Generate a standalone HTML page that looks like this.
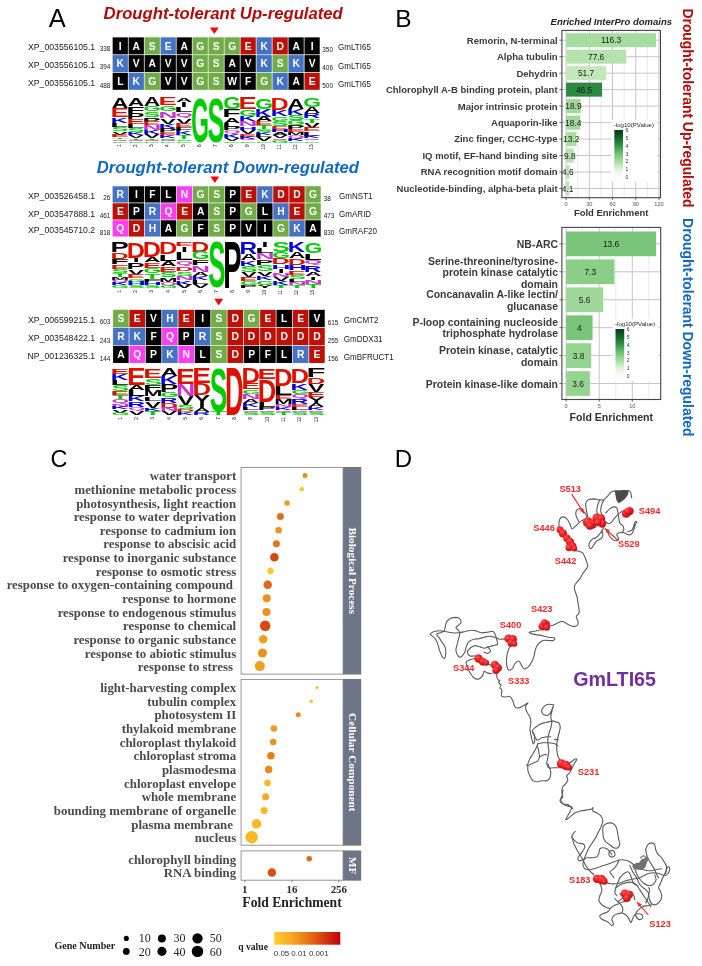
<!DOCTYPE html>
<html lang="en"><head><meta charset="utf-8"><title>Figure</title>
<style>
html,body{margin:0;padding:0;background:#fff;}
body{width:702px;height:966px;overflow:hidden;font-family:'Liberation Sans', Arial, sans-serif;}
svg{display:block;}
text{white-space:pre;}
</style></head><body>
<svg width="702" height="966" viewBox="0 0 702 966">
<rect width="702" height="966" fill="#ffffff"/>
<g id="panelA">
<text x="48.80" y="27.20" font-family="'Liberation Sans', Arial, sans-serif" font-size="25.5" font-weight="normal" font-style="normal" fill="#000" text-anchor="start" >A</text>
<text x="103.60" y="19.00" font-family="'Liberation Sans', Arial, sans-serif" font-size="16.7" font-weight="bold" font-style="italic" fill="#b40a0a" text-anchor="start" >Drought-tolerant Up-regulated</text>
<path d="M209.90 27.50 L218.70 27.50 L214.30 34.10 Z" fill="#ff0000"/>
<rect x="112.00" y="36.70" width="208.11" height="53.39" fill="#ececec"/>
<rect x="112.70" y="37.40" width="15.18" height="16.93" fill="#000000"/>
<text x="120.29" y="49.57" font-family="'Liberation Sans', Arial, sans-serif" font-size="10.3" font-weight="bold" font-style="normal" fill="#fff" text-anchor="middle" >I</text>
<rect x="128.69" y="37.40" width="15.18" height="16.93" fill="#000000"/>
<text x="136.28" y="49.57" font-family="'Liberation Sans', Arial, sans-serif" font-size="10.3" font-weight="bold" font-style="normal" fill="#fff" text-anchor="middle" >A</text>
<rect x="144.67" y="37.40" width="15.18" height="16.93" fill="#70ad47"/>
<text x="152.26" y="49.57" font-family="'Liberation Sans', Arial, sans-serif" font-size="10.3" font-weight="bold" font-style="normal" fill="#fff" text-anchor="middle" >S</text>
<rect x="160.66" y="37.40" width="15.18" height="16.93" fill="#4472c4"/>
<text x="168.25" y="49.57" font-family="'Liberation Sans', Arial, sans-serif" font-size="10.3" font-weight="bold" font-style="normal" fill="#fff" text-anchor="middle" >E</text>
<rect x="176.64" y="37.40" width="15.18" height="16.93" fill="#000000"/>
<text x="184.23" y="49.57" font-family="'Liberation Sans', Arial, sans-serif" font-size="10.3" font-weight="bold" font-style="normal" fill="#fff" text-anchor="middle" >A</text>
<rect x="192.62" y="37.40" width="15.18" height="16.93" fill="#70ad47"/>
<text x="200.22" y="49.57" font-family="'Liberation Sans', Arial, sans-serif" font-size="10.3" font-weight="bold" font-style="normal" fill="#fff" text-anchor="middle" >G</text>
<rect x="208.61" y="37.40" width="15.18" height="16.93" fill="#70ad47"/>
<text x="216.20" y="49.57" font-family="'Liberation Sans', Arial, sans-serif" font-size="10.3" font-weight="bold" font-style="normal" fill="#fff" text-anchor="middle" >S</text>
<rect x="224.59" y="37.40" width="15.18" height="16.93" fill="#70ad47"/>
<text x="232.19" y="49.57" font-family="'Liberation Sans', Arial, sans-serif" font-size="10.3" font-weight="bold" font-style="normal" fill="#fff" text-anchor="middle" >G</text>
<rect x="240.58" y="37.40" width="15.18" height="16.93" fill="#be1006"/>
<text x="248.17" y="49.57" font-family="'Liberation Sans', Arial, sans-serif" font-size="10.3" font-weight="bold" font-style="normal" fill="#fff" text-anchor="middle" >E</text>
<rect x="256.56" y="37.40" width="15.18" height="16.93" fill="#4472c4"/>
<text x="264.16" y="49.57" font-family="'Liberation Sans', Arial, sans-serif" font-size="10.3" font-weight="bold" font-style="normal" fill="#fff" text-anchor="middle" >K</text>
<rect x="272.55" y="37.40" width="15.18" height="16.93" fill="#be1006"/>
<text x="280.14" y="49.57" font-family="'Liberation Sans', Arial, sans-serif" font-size="10.3" font-weight="bold" font-style="normal" fill="#fff" text-anchor="middle" >D</text>
<rect x="288.53" y="37.40" width="15.18" height="16.93" fill="#000000"/>
<text x="296.13" y="49.57" font-family="'Liberation Sans', Arial, sans-serif" font-size="10.3" font-weight="bold" font-style="normal" fill="#fff" text-anchor="middle" >A</text>
<rect x="304.52" y="37.40" width="15.18" height="16.93" fill="#000000"/>
<text x="312.11" y="49.57" font-family="'Liberation Sans', Arial, sans-serif" font-size="10.3" font-weight="bold" font-style="normal" fill="#fff" text-anchor="middle" >I</text>
<text x="95.20" y="49.90" font-family="'Liberation Sans', Arial, sans-serif" font-size="8.7" font-weight="normal" font-style="normal" fill="#1a1a1a" text-anchor="end" >XP_003556105.1</text>
<text x="110.30" y="51.20" font-family="'Liberation Sans', Arial, sans-serif" font-size="6.4" font-weight="normal" font-style="normal" fill="#1a1a1a" text-anchor="end" >338</text>
<text x="322.30" y="51.50" font-family="'Liberation Sans', Arial, sans-serif" font-size="6.4" font-weight="normal" font-style="normal" fill="#1a1a1a" text-anchor="start" >350</text>
<text transform="translate(338.00 50.40) scale(0.925 1)" font-family="'Liberation Sans', Arial, sans-serif" font-size="8.7" fill="#1a1a1a">GmLTI65</text>
<rect x="112.70" y="55.13" width="15.18" height="16.93" fill="#4472c4"/>
<text x="120.29" y="67.30" font-family="'Liberation Sans', Arial, sans-serif" font-size="10.3" font-weight="bold" font-style="normal" fill="#fff" text-anchor="middle" >K</text>
<rect x="128.69" y="55.13" width="15.18" height="16.93" fill="#000000"/>
<text x="136.28" y="67.30" font-family="'Liberation Sans', Arial, sans-serif" font-size="10.3" font-weight="bold" font-style="normal" fill="#fff" text-anchor="middle" >V</text>
<rect x="144.67" y="55.13" width="15.18" height="16.93" fill="#000000"/>
<text x="152.26" y="67.30" font-family="'Liberation Sans', Arial, sans-serif" font-size="10.3" font-weight="bold" font-style="normal" fill="#fff" text-anchor="middle" >A</text>
<rect x="160.66" y="55.13" width="15.18" height="16.93" fill="#000000"/>
<text x="168.25" y="67.30" font-family="'Liberation Sans', Arial, sans-serif" font-size="10.3" font-weight="bold" font-style="normal" fill="#fff" text-anchor="middle" >V</text>
<rect x="176.64" y="55.13" width="15.18" height="16.93" fill="#000000"/>
<text x="184.23" y="67.30" font-family="'Liberation Sans', Arial, sans-serif" font-size="10.3" font-weight="bold" font-style="normal" fill="#fff" text-anchor="middle" >V</text>
<rect x="192.62" y="55.13" width="15.18" height="16.93" fill="#70ad47"/>
<text x="200.22" y="67.30" font-family="'Liberation Sans', Arial, sans-serif" font-size="10.3" font-weight="bold" font-style="normal" fill="#fff" text-anchor="middle" >G</text>
<rect x="208.61" y="55.13" width="15.18" height="16.93" fill="#70ad47"/>
<text x="216.20" y="67.30" font-family="'Liberation Sans', Arial, sans-serif" font-size="10.3" font-weight="bold" font-style="normal" fill="#fff" text-anchor="middle" >S</text>
<rect x="224.59" y="55.13" width="15.18" height="16.93" fill="#000000"/>
<text x="232.19" y="67.30" font-family="'Liberation Sans', Arial, sans-serif" font-size="10.3" font-weight="bold" font-style="normal" fill="#fff" text-anchor="middle" >A</text>
<rect x="240.58" y="55.13" width="15.18" height="16.93" fill="#000000"/>
<text x="248.17" y="67.30" font-family="'Liberation Sans', Arial, sans-serif" font-size="10.3" font-weight="bold" font-style="normal" fill="#fff" text-anchor="middle" >V</text>
<rect x="256.56" y="55.13" width="15.18" height="16.93" fill="#4472c4"/>
<text x="264.16" y="67.30" font-family="'Liberation Sans', Arial, sans-serif" font-size="10.3" font-weight="bold" font-style="normal" fill="#fff" text-anchor="middle" >K</text>
<rect x="272.55" y="55.13" width="15.18" height="16.93" fill="#70ad47"/>
<text x="280.14" y="67.30" font-family="'Liberation Sans', Arial, sans-serif" font-size="10.3" font-weight="bold" font-style="normal" fill="#fff" text-anchor="middle" >S</text>
<rect x="288.53" y="55.13" width="15.18" height="16.93" fill="#4472c4"/>
<text x="296.13" y="67.30" font-family="'Liberation Sans', Arial, sans-serif" font-size="10.3" font-weight="bold" font-style="normal" fill="#fff" text-anchor="middle" >K</text>
<rect x="304.52" y="55.13" width="15.18" height="16.93" fill="#000000"/>
<text x="312.11" y="67.30" font-family="'Liberation Sans', Arial, sans-serif" font-size="10.3" font-weight="bold" font-style="normal" fill="#fff" text-anchor="middle" >V</text>
<text x="95.20" y="68.00" font-family="'Liberation Sans', Arial, sans-serif" font-size="8.7" font-weight="normal" font-style="normal" fill="#1a1a1a" text-anchor="end" >XP_003556105.1</text>
<text x="110.30" y="69.30" font-family="'Liberation Sans', Arial, sans-serif" font-size="6.4" font-weight="normal" font-style="normal" fill="#1a1a1a" text-anchor="end" >394</text>
<text x="322.30" y="69.60" font-family="'Liberation Sans', Arial, sans-serif" font-size="6.4" font-weight="normal" font-style="normal" fill="#1a1a1a" text-anchor="start" >406</text>
<text transform="translate(338.00 68.50) scale(0.925 1)" font-family="'Liberation Sans', Arial, sans-serif" font-size="8.7" fill="#1a1a1a">GmLTI65</text>
<rect x="112.70" y="72.86" width="15.18" height="16.93" fill="#000000"/>
<text x="120.29" y="85.03" font-family="'Liberation Sans', Arial, sans-serif" font-size="10.3" font-weight="bold" font-style="normal" fill="#fff" text-anchor="middle" >L</text>
<rect x="128.69" y="72.86" width="15.18" height="16.93" fill="#4472c4"/>
<text x="136.28" y="85.03" font-family="'Liberation Sans', Arial, sans-serif" font-size="10.3" font-weight="bold" font-style="normal" fill="#fff" text-anchor="middle" >K</text>
<rect x="144.67" y="72.86" width="15.18" height="16.93" fill="#70ad47"/>
<text x="152.26" y="85.03" font-family="'Liberation Sans', Arial, sans-serif" font-size="10.3" font-weight="bold" font-style="normal" fill="#fff" text-anchor="middle" >G</text>
<rect x="160.66" y="72.86" width="15.18" height="16.93" fill="#000000"/>
<text x="168.25" y="85.03" font-family="'Liberation Sans', Arial, sans-serif" font-size="10.3" font-weight="bold" font-style="normal" fill="#fff" text-anchor="middle" >V</text>
<rect x="176.64" y="72.86" width="15.18" height="16.93" fill="#000000"/>
<text x="184.23" y="85.03" font-family="'Liberation Sans', Arial, sans-serif" font-size="10.3" font-weight="bold" font-style="normal" fill="#fff" text-anchor="middle" >V</text>
<rect x="192.62" y="72.86" width="15.18" height="16.93" fill="#70ad47"/>
<text x="200.22" y="85.03" font-family="'Liberation Sans', Arial, sans-serif" font-size="10.3" font-weight="bold" font-style="normal" fill="#fff" text-anchor="middle" >G</text>
<rect x="208.61" y="72.86" width="15.18" height="16.93" fill="#70ad47"/>
<text x="216.20" y="85.03" font-family="'Liberation Sans', Arial, sans-serif" font-size="10.3" font-weight="bold" font-style="normal" fill="#fff" text-anchor="middle" >S</text>
<rect x="224.59" y="72.86" width="15.18" height="16.93" fill="#000000"/>
<text x="232.19" y="85.03" font-family="'Liberation Sans', Arial, sans-serif" font-size="10.3" font-weight="bold" font-style="normal" fill="#fff" text-anchor="middle" >W</text>
<rect x="240.58" y="72.86" width="15.18" height="16.93" fill="#000000"/>
<text x="248.17" y="85.03" font-family="'Liberation Sans', Arial, sans-serif" font-size="10.3" font-weight="bold" font-style="normal" fill="#fff" text-anchor="middle" >F</text>
<rect x="256.56" y="72.86" width="15.18" height="16.93" fill="#70ad47"/>
<text x="264.16" y="85.03" font-family="'Liberation Sans', Arial, sans-serif" font-size="10.3" font-weight="bold" font-style="normal" fill="#fff" text-anchor="middle" >G</text>
<rect x="272.55" y="72.86" width="15.18" height="16.93" fill="#4472c4"/>
<text x="280.14" y="85.03" font-family="'Liberation Sans', Arial, sans-serif" font-size="10.3" font-weight="bold" font-style="normal" fill="#fff" text-anchor="middle" >K</text>
<rect x="288.53" y="72.86" width="15.18" height="16.93" fill="#000000"/>
<text x="296.13" y="85.03" font-family="'Liberation Sans', Arial, sans-serif" font-size="10.3" font-weight="bold" font-style="normal" fill="#fff" text-anchor="middle" >A</text>
<rect x="304.52" y="72.86" width="15.18" height="16.93" fill="#be1006"/>
<text x="312.11" y="85.03" font-family="'Liberation Sans', Arial, sans-serif" font-size="10.3" font-weight="bold" font-style="normal" fill="#fff" text-anchor="middle" >E</text>
<text x="95.20" y="86.30" font-family="'Liberation Sans', Arial, sans-serif" font-size="8.7" font-weight="normal" font-style="normal" fill="#1a1a1a" text-anchor="end" >XP_003556105.1</text>
<text x="110.30" y="87.60" font-family="'Liberation Sans', Arial, sans-serif" font-size="6.4" font-weight="normal" font-style="normal" fill="#1a1a1a" text-anchor="end" >488</text>
<text x="322.30" y="87.90" font-family="'Liberation Sans', Arial, sans-serif" font-size="6.4" font-weight="normal" font-style="normal" fill="#1a1a1a" text-anchor="start" >500</text>
<text transform="translate(338.00 86.80) scale(0.925 1)" font-family="'Liberation Sans', Arial, sans-serif" font-size="8.7" fill="#1a1a1a">GmLTI65</text>
<text transform="matrix(2.295 0 0 1.434 111.73 108.17)" font-family="'Liberation Sans', Arial, sans-serif" font-size="10" font-weight="bold" fill="#000000">A</text>
<text transform="matrix(2.745 0 0 1.231 110.46 117.03)" font-family="'Liberation Sans', Arial, sans-serif" font-size="10" font-weight="bold" fill="#dd1100">E</text>
<text transform="matrix(2.388 0 0 0.756 110.70 122.63)" font-family="'Liberation Sans', Arial, sans-serif" font-size="10" font-weight="bold" fill="#0000dd">K</text>
<text transform="matrix(3.002 0 0 0.620 110.29 127.30)" font-family="'Liberation Sans', Arial, sans-serif" font-size="10" font-weight="bold" fill="#000000">L</text>
<text transform="matrix(2.571 0 0 0.537 111.55 131.45)" font-family="'Liberation Sans', Arial, sans-serif" font-size="10" font-weight="bold" fill="#00cc00">S</text>
<text transform="matrix(2.358 0 0 0.417 112.13 134.77)" font-family="'Liberation Sans', Arial, sans-serif" font-size="10" font-weight="bold" fill="#000000">V</text>
<text transform="matrix(2.745 0 0 0.281 110.46 137.10)" font-family="'Liberation Sans', Arial, sans-serif" font-size="10" font-weight="bold" fill="#dd1100">E</text>
<text transform="matrix(2.615 0 0 0.213 112.01 138.97)" font-family="'Liberation Sans', Arial, sans-serif" font-size="10" font-weight="bold" fill="#00cc00">T</text>
<text transform="matrix(2.216 0 0 0.164 111.39 140.51)" font-family="'Liberation Sans', Arial, sans-serif" font-size="10" font-weight="bold" fill="#cc33cc">Q</text>
<text transform="matrix(2.281 0 0 0.207 111.36 142.68)" font-family="'Liberation Sans', Arial, sans-serif" font-size="10" font-weight="bold" fill="#00cc00">G</text>
<text transform="translate(121.20 144.40) rotate(-90)" font-family="'Liberation Sans', Arial, sans-serif" font-size="4.8" fill="#111" text-anchor="end">1</text>
<text transform="matrix(2.295 0 0 1.074 127.73 105.69)" font-family="'Liberation Sans', Arial, sans-serif" font-size="10" font-weight="bold" fill="#000000">A</text>
<text transform="matrix(3.037 0 0 0.933 126.26 112.51)" font-family="'Liberation Sans', Arial, sans-serif" font-size="10" font-weight="bold" fill="#000000">F</text>
<text transform="matrix(2.721 0 0 0.933 126.48 119.33)" font-family="'Liberation Sans', Arial, sans-serif" font-size="10" font-weight="bold" fill="#000000">P</text>
<text transform="matrix(2.745 0 0 0.650 126.46 124.20)" font-family="'Liberation Sans', Arial, sans-serif" font-size="10" font-weight="bold" fill="#dd1100">E</text>
<text transform="matrix(3.002 0 0 0.508 126.29 128.09)" font-family="'Liberation Sans', Arial, sans-serif" font-size="10" font-weight="bold" fill="#000000">L</text>
<text transform="matrix(2.571 0 0 0.494 127.55 131.94)" font-family="'Liberation Sans', Arial, sans-serif" font-size="10" font-weight="bold" fill="#00cc00">S</text>
<text transform="matrix(2.388 0 0 0.367 126.70 134.91)" font-family="'Liberation Sans', Arial, sans-serif" font-size="10" font-weight="bold" fill="#0000dd">K</text>
<text transform="matrix(2.358 0 0 0.367 128.13 137.83)" font-family="'Liberation Sans', Arial, sans-serif" font-size="10" font-weight="bold" fill="#000000">V</text>
<text transform="matrix(2.615 0 0 0.225 128.01 139.78)" font-family="'Liberation Sans', Arial, sans-serif" font-size="10" font-weight="bold" fill="#00cc00">T</text>
<text transform="matrix(2.216 0 0 0.119 127.39 141.01)" font-family="'Liberation Sans', Arial, sans-serif" font-size="10" font-weight="bold" fill="#cc33cc">Q</text>
<text transform="matrix(2.281 0 0 0.150 127.36 142.69)" font-family="'Liberation Sans', Arial, sans-serif" font-size="10" font-weight="bold" fill="#00cc00">G</text>
<text transform="translate(137.20 144.40) rotate(-90)" font-family="'Liberation Sans', Arial, sans-serif" font-size="4.8" fill="#111" text-anchor="end">2</text>
<text transform="matrix(2.295 0 0 1.186 143.73 106.46)" font-family="'Liberation Sans', Arial, sans-serif" font-size="10" font-weight="bold" fill="#000000">A</text>
<text transform="matrix(2.281 0 0 0.654 143.36 111.43)" font-family="'Liberation Sans', Arial, sans-serif" font-size="10" font-weight="bold" fill="#00cc00">G</text>
<text transform="matrix(2.571 0 0 0.797 143.55 117.45)" font-family="'Liberation Sans', Arial, sans-serif" font-size="10" font-weight="bold" fill="#00cc00">S</text>
<text transform="matrix(2.721 0 0 0.527 142.48 121.56)" font-family="'Liberation Sans', Arial, sans-serif" font-size="10" font-weight="bold" fill="#000000">P</text>
<text transform="matrix(2.745 0 0 0.454 142.46 125.08)" font-family="'Liberation Sans', Arial, sans-serif" font-size="10" font-weight="bold" fill="#dd1100">E</text>
<text transform="matrix(2.619 0 0 0.674 142.55 130.12)" font-family="'Liberation Sans', Arial, sans-serif" font-size="10" font-weight="bold" fill="#cc33cc">N</text>
<text transform="matrix(2.388 0 0 0.527 142.70 134.14)" font-family="'Liberation Sans', Arial, sans-serif" font-size="10" font-weight="bold" fill="#0000dd">K</text>
<text transform="matrix(2.358 0 0 0.454 144.13 137.67)" font-family="'Liberation Sans', Arial, sans-serif" font-size="10" font-weight="bold" fill="#000000">V</text>
<text transform="matrix(2.615 0 0 0.235 144.01 139.68)" font-family="'Liberation Sans', Arial, sans-serif" font-size="10" font-weight="bold" fill="#00cc00">T</text>
<text transform="matrix(2.216 0 0 0.124 143.39 140.95)" font-family="'Liberation Sans', Arial, sans-serif" font-size="10" font-weight="bold" fill="#cc33cc">Q</text>
<text transform="matrix(2.281 0 0 0.157 143.36 142.68)" font-family="'Liberation Sans', Arial, sans-serif" font-size="10" font-weight="bold" fill="#00cc00">G</text>
<text transform="translate(153.20 144.40) rotate(-90)" font-family="'Liberation Sans', Arial, sans-serif" font-size="4.8" fill="#111" text-anchor="end">3</text>
<text transform="matrix(2.745 0 0 1.039 158.46 105.45)" font-family="'Liberation Sans', Arial, sans-serif" font-size="10" font-weight="bold" fill="#dd1100">E</text>
<text transform="matrix(2.281 0 0 0.743 159.36 111.03)" font-family="'Liberation Sans', Arial, sans-serif" font-size="10" font-weight="bold" fill="#00cc00">G</text>
<text transform="matrix(2.619 0 0 0.970 158.55 118.18)" font-family="'Liberation Sans', Arial, sans-serif" font-size="10" font-weight="bold" fill="#cc33cc">N</text>
<text transform="matrix(2.358 0 0 0.764 160.13 123.84)" font-family="'Liberation Sans', Arial, sans-serif" font-size="10" font-weight="bold" fill="#000000">V</text>
<text transform="matrix(2.388 0 0 0.559 158.70 128.08)" font-family="'Liberation Sans', Arial, sans-serif" font-size="10" font-weight="bold" fill="#0000dd">K</text>
<text transform="matrix(2.721 0 0 0.559 158.48 132.33)" font-family="'Liberation Sans', Arial, sans-serif" font-size="10" font-weight="bold" fill="#000000">P</text>
<text transform="matrix(2.745 0 0 0.353 158.46 135.15)" font-family="'Liberation Sans', Arial, sans-serif" font-size="10" font-weight="bold" fill="#dd1100">E</text>
<text transform="matrix(2.388 0 0 0.353 158.70 137.98)" font-family="'Liberation Sans', Arial, sans-serif" font-size="10" font-weight="bold" fill="#0000dd">K</text>
<text transform="matrix(2.571 0 0 0.210 159.55 139.85)" font-family="'Liberation Sans', Arial, sans-serif" font-size="10" font-weight="bold" fill="#00cc00">S</text>
<text transform="matrix(2.216 0 0 0.113 159.39 141.06)" font-family="'Liberation Sans', Arial, sans-serif" font-size="10" font-weight="bold" fill="#cc33cc">Q</text>
<text transform="matrix(2.281 0 0 0.143 159.36 142.69)" font-family="'Liberation Sans', Arial, sans-serif" font-size="10" font-weight="bold" fill="#00cc00">G</text>
<text transform="translate(169.20 144.40) rotate(-90)" font-family="'Liberation Sans', Arial, sans-serif" font-size="4.8" fill="#111" text-anchor="end">4</text>
<text transform="matrix(2.295 0 0 0.593 175.73 102.38)" font-family="'Liberation Sans', Arial, sans-serif" font-size="10" font-weight="bold" fill="#000000">A</text>
<text transform="matrix(2.444 0 0 0.665 180.60 107.36)" font-family="'Liberation Sans', Arial, sans-serif" font-size="10" font-weight="bold" fill="#000000">I</text>
<text transform="matrix(3.002 0 0 0.665 174.29 112.34)" font-family="'Liberation Sans', Arial, sans-serif" font-size="10" font-weight="bold" fill="#000000">L</text>
<text transform="matrix(2.216 0 0 0.567 175.39 116.69)" font-family="'Liberation Sans', Arial, sans-serif" font-size="10" font-weight="bold" fill="#cc33cc">Q</text>
<text transform="matrix(2.358 0 0 0.810 176.13 123.78)" font-family="'Liberation Sans', Arial, sans-serif" font-size="10" font-weight="bold" fill="#000000">V</text>
<text transform="matrix(2.745 0 0 0.448 174.46 127.27)" font-family="'Liberation Sans', Arial, sans-serif" font-size="10" font-weight="bold" fill="#dd1100">E</text>
<text transform="matrix(3.037 0 0 0.448 174.26 130.75)" font-family="'Liberation Sans', Arial, sans-serif" font-size="10" font-weight="bold" fill="#000000">F</text>
<text transform="matrix(2.388 0 0 0.521 174.70 134.74)" font-family="'Liberation Sans', Arial, sans-serif" font-size="10" font-weight="bold" fill="#0000dd">K</text>
<text transform="matrix(2.615 0 0 0.593 176.01 139.22)" font-family="'Liberation Sans', Arial, sans-serif" font-size="10" font-weight="bold" fill="#00cc00">T</text>
<text transform="matrix(2.571 0 0 0.225 175.55 141.18)" font-family="'Liberation Sans', Arial, sans-serif" font-size="10" font-weight="bold" fill="#00cc00">S</text>
<text transform="matrix(2.281 0 0 0.154 175.36 142.68)" font-family="'Liberation Sans', Arial, sans-serif" font-size="10" font-weight="bold" fill="#00cc00">G</text>
<text transform="translate(185.20 144.40) rotate(-90)" font-family="'Liberation Sans', Arial, sans-serif" font-size="4.8" fill="#111" text-anchor="end">5</text>
<text transform="matrix(2.281 0 0 6.271 191.36 142.07)" font-family="'Liberation Sans', Arial, sans-serif" font-size="10" font-weight="bold" fill="#00cc00">G</text>
<text transform="translate(201.20 144.40) rotate(-90)" font-family="'Liberation Sans', Arial, sans-serif" font-size="4.8" fill="#111" text-anchor="end">6</text>
<text transform="matrix(2.571 0 0 6.271 207.55 142.07)" font-family="'Liberation Sans', Arial, sans-serif" font-size="10" font-weight="bold" fill="#00cc00">S</text>
<text transform="translate(217.20 144.40) rotate(-90)" font-family="'Liberation Sans', Arial, sans-serif" font-size="4.8" fill="#111" text-anchor="end">7</text>
<text transform="matrix(2.281 0 0 1.558 223.36 109.17)" font-family="'Liberation Sans', Arial, sans-serif" font-size="10" font-weight="bold" fill="#00cc00">G</text>
<text transform="matrix(3.037 0 0 1.071 222.26 117.10)" font-family="'Liberation Sans', Arial, sans-serif" font-size="10" font-weight="bold" fill="#000000">F</text>
<text transform="matrix(2.295 0 0 0.806 223.73 123.04)" font-family="'Liberation Sans', Arial, sans-serif" font-size="10" font-weight="bold" fill="#000000">A</text>
<text transform="matrix(3.002 0 0 0.473 222.29 126.70)" font-family="'Liberation Sans', Arial, sans-serif" font-size="10" font-weight="bold" fill="#000000">L</text>
<text transform="matrix(2.721 0 0 0.473 222.48 130.36)" font-family="'Liberation Sans', Arial, sans-serif" font-size="10" font-weight="bold" fill="#000000">P</text>
<text transform="matrix(2.216 0 0 0.364 223.39 133.30)" font-family="'Liberation Sans', Arial, sans-serif" font-size="10" font-weight="bold" fill="#cc33cc">Q</text>
<text transform="matrix(2.388 0 0 0.473 222.70 137.67)" font-family="'Liberation Sans', Arial, sans-serif" font-size="10" font-weight="bold" fill="#0000dd">K</text>
<text transform="matrix(2.358 0 0 0.407 224.13 140.87)" font-family="'Liberation Sans', Arial, sans-serif" font-size="10" font-weight="bold" fill="#000000">V</text>
<text transform="matrix(2.281 0 0 0.202 223.36 142.68)" font-family="'Liberation Sans', Arial, sans-serif" font-size="10" font-weight="bold" fill="#00cc00">G</text>
<text transform="translate(233.20 144.40) rotate(-90)" font-family="'Liberation Sans', Arial, sans-serif" font-size="4.8" fill="#111" text-anchor="end">8</text>
<text transform="matrix(2.745 0 0 1.587 238.46 109.22)" font-family="'Liberation Sans', Arial, sans-serif" font-size="10" font-weight="bold" fill="#dd1100">E</text>
<text transform="matrix(2.281 0 0 0.876 239.36 115.73)" font-family="'Liberation Sans', Arial, sans-serif" font-size="10" font-weight="bold" fill="#00cc00">G</text>
<text transform="matrix(2.388 0 0 0.764 238.70 121.48)" font-family="'Liberation Sans', Arial, sans-serif" font-size="10" font-weight="bold" fill="#0000dd">K</text>
<text transform="matrix(2.619 0 0 0.627 238.55 126.19)" font-family="'Liberation Sans', Arial, sans-serif" font-size="10" font-weight="bold" fill="#cc33cc">N</text>
<text transform="matrix(2.619 0 0 0.422 238.55 129.50)" font-family="'Liberation Sans', Arial, sans-serif" font-size="10" font-weight="bold" fill="#0000dd">H</text>
<text transform="matrix(2.358 0 0 0.559 240.13 133.74)" font-family="'Liberation Sans', Arial, sans-serif" font-size="10" font-weight="bold" fill="#000000">V</text>
<text transform="matrix(2.745 0 0 0.353 238.46 136.57)" font-family="'Liberation Sans', Arial, sans-serif" font-size="10" font-weight="bold" fill="#dd1100">E</text>
<text transform="matrix(2.388 0 0 0.285 238.70 138.93)" font-family="'Liberation Sans', Arial, sans-serif" font-size="10" font-weight="bold" fill="#0000dd">K</text>
<text transform="matrix(2.216 0 0 0.166 239.39 140.49)" font-family="'Liberation Sans', Arial, sans-serif" font-size="10" font-weight="bold" fill="#cc33cc">Q</text>
<text transform="matrix(2.281 0 0 0.210 239.36 142.68)" font-family="'Liberation Sans', Arial, sans-serif" font-size="10" font-weight="bold" fill="#00cc00">G</text>
<text transform="translate(249.20 144.40) rotate(-90)" font-family="'Liberation Sans', Arial, sans-serif" font-size="4.8" fill="#111" text-anchor="end">9</text>
<text transform="matrix(2.281 0 0 1.542 255.36 109.06)" font-family="'Liberation Sans', Arial, sans-serif" font-size="10" font-weight="bold" fill="#00cc00">G</text>
<text transform="matrix(2.388 0 0 1.039 254.70 116.76)" font-family="'Liberation Sans', Arial, sans-serif" font-size="10" font-weight="bold" fill="#0000dd">K</text>
<text transform="matrix(2.295 0 0 0.627 255.73 121.48)" font-family="'Liberation Sans', Arial, sans-serif" font-size="10" font-weight="bold" fill="#000000">A</text>
<text transform="matrix(2.745 0 0 0.490 254.46 125.25)" font-family="'Liberation Sans', Arial, sans-serif" font-size="10" font-weight="bold" fill="#dd1100">E</text>
<text transform="matrix(2.615 0 0 0.490 256.01 129.02)" font-family="'Liberation Sans', Arial, sans-serif" font-size="10" font-weight="bold" fill="#00cc00">T</text>
<text transform="matrix(2.571 0 0 0.343 255.55 131.82)" font-family="'Liberation Sans', Arial, sans-serif" font-size="10" font-weight="bold" fill="#00cc00">S</text>
<text transform="matrix(2.388 0 0 0.353 254.70 134.68)" font-family="'Liberation Sans', Arial, sans-serif" font-size="10" font-weight="bold" fill="#0000dd">K</text>
<text transform="matrix(3.002 0 0 0.285 254.29 137.04)" font-family="'Liberation Sans', Arial, sans-serif" font-size="10" font-weight="bold" fill="#000000">L</text>
<text transform="matrix(2.358 0 0 0.490 256.13 140.81)" font-family="'Liberation Sans', Arial, sans-serif" font-size="10" font-weight="bold" fill="#000000">V</text>
<text transform="matrix(2.281 0 0 0.210 255.36 142.68)" font-family="'Liberation Sans', Arial, sans-serif" font-size="10" font-weight="bold" fill="#00cc00">G</text>
<text transform="translate(265.20 144.40) rotate(-90)" font-family="'Liberation Sans', Arial, sans-serif" font-size="4.8" fill="#111" text-anchor="end">10</text>
<text transform="matrix(2.512 0 0 1.641 270.62 109.59)" font-family="'Liberation Sans', Arial, sans-serif" font-size="10" font-weight="bold" fill="#dd1100">D</text>
<text transform="matrix(2.388 0 0 0.933 270.70 116.40)" font-family="'Liberation Sans', Arial, sans-serif" font-size="10" font-weight="bold" fill="#0000dd">K</text>
<text transform="matrix(2.281 0 0 0.563 271.36 120.73)" font-family="'Liberation Sans', Arial, sans-serif" font-size="10" font-weight="bold" fill="#00cc00">G</text>
<text transform="matrix(2.571 0 0 0.631 271.55 125.59)" font-family="'Liberation Sans', Arial, sans-serif" font-size="10" font-weight="bold" fill="#00cc00">S</text>
<text transform="matrix(2.745 0 0 0.508 270.46 129.55)" font-family="'Liberation Sans', Arial, sans-serif" font-size="10" font-weight="bold" fill="#dd1100">E</text>
<text transform="matrix(2.619 0 0 0.367 270.55 132.47)" font-family="'Liberation Sans', Arial, sans-serif" font-size="10" font-weight="bold" fill="#0000dd">H</text>
<text transform="matrix(2.295 0 0 0.367 271.73 135.40)" font-family="'Liberation Sans', Arial, sans-serif" font-size="10" font-weight="bold" fill="#000000">A</text>
<text transform="matrix(2.358 0 0 0.367 272.13 138.32)" font-family="'Liberation Sans', Arial, sans-serif" font-size="10" font-weight="bold" fill="#000000">V</text>
<text transform="matrix(2.216 0 0 0.173 271.39 139.92)" font-family="'Liberation Sans', Arial, sans-serif" font-size="10" font-weight="bold" fill="#cc33cc">Q</text>
<text transform="matrix(2.281 0 0 0.287 271.36 142.67)" font-family="'Liberation Sans', Arial, sans-serif" font-size="10" font-weight="bold" fill="#00cc00">G</text>
<text transform="translate(281.20 144.40) rotate(-90)" font-family="'Liberation Sans', Arial, sans-serif" font-size="4.8" fill="#111" text-anchor="end">11</text>
<text transform="matrix(2.295 0 0 1.499 287.73 108.61)" font-family="'Liberation Sans', Arial, sans-serif" font-size="10" font-weight="bold" fill="#000000">A</text>
<text transform="matrix(2.388 0 0 0.933 286.70 115.43)" font-family="'Liberation Sans', Arial, sans-serif" font-size="10" font-weight="bold" fill="#0000dd">K</text>
<text transform="matrix(2.571 0 0 0.631 287.55 120.24)" font-family="'Liberation Sans', Arial, sans-serif" font-size="10" font-weight="bold" fill="#00cc00">S</text>
<text transform="matrix(2.281 0 0 0.631 287.36 125.11)" font-family="'Liberation Sans', Arial, sans-serif" font-size="10" font-weight="bold" fill="#00cc00">G</text>
<text transform="matrix(2.721 0 0 0.508 286.48 129.07)" font-family="'Liberation Sans', Arial, sans-serif" font-size="10" font-weight="bold" fill="#000000">P</text>
<text transform="matrix(2.745 0 0 0.437 286.46 132.47)" font-family="'Liberation Sans', Arial, sans-serif" font-size="10" font-weight="bold" fill="#dd1100">E</text>
<text transform="matrix(2.203 0 0 0.367 286.82 135.40)" font-family="'Liberation Sans', Arial, sans-serif" font-size="10" font-weight="bold" fill="#000000">M</text>
<text transform="matrix(2.216 0 0 0.282 287.39 137.76)" font-family="'Liberation Sans', Arial, sans-serif" font-size="10" font-weight="bold" fill="#cc33cc">Q</text>
<text transform="matrix(2.388 0 0 0.296 286.70 140.75)" font-family="'Liberation Sans', Arial, sans-serif" font-size="10" font-weight="bold" fill="#0000dd">K</text>
<text transform="matrix(2.281 0 0 0.219 287.36 142.68)" font-family="'Liberation Sans', Arial, sans-serif" font-size="10" font-weight="bold" fill="#00cc00">G</text>
<text transform="translate(297.20 144.40) rotate(-90)" font-family="'Liberation Sans', Arial, sans-serif" font-size="4.8" fill="#111" text-anchor="end">12</text>
<text transform="matrix(2.281 0 0 1.195 303.36 106.64)" font-family="'Liberation Sans', Arial, sans-serif" font-size="10" font-weight="bold" fill="#00cc00">G</text>
<text transform="matrix(2.295 0 0 0.872 303.73 113.16)" font-family="'Liberation Sans', Arial, sans-serif" font-size="10" font-weight="bold" fill="#000000">A</text>
<text transform="matrix(2.429 0 0 0.657 302.67 118.08)" font-family="'Liberation Sans', Arial, sans-serif" font-size="10" font-weight="bold" fill="#0000dd">R</text>
<text transform="matrix(2.615 0 0 0.586 304.01 122.52)" font-family="'Liberation Sans', Arial, sans-serif" font-size="10" font-weight="bold" fill="#00cc00">T</text>
<text transform="matrix(2.358 0 0 0.729 304.13 127.93)" font-family="'Liberation Sans', Arial, sans-serif" font-size="10" font-weight="bold" fill="#000000">V</text>
<text transform="matrix(2.745 0 0 0.443 302.46 131.38)" font-family="'Liberation Sans', Arial, sans-serif" font-size="10" font-weight="bold" fill="#dd1100">E</text>
<text transform="matrix(3.002 0 0 0.586 302.29 135.81)" font-family="'Liberation Sans', Arial, sans-serif" font-size="10" font-weight="bold" fill="#000000">L</text>
<text transform="matrix(2.388 0 0 0.300 302.70 138.27)" font-family="'Liberation Sans', Arial, sans-serif" font-size="10" font-weight="bold" fill="#0000dd">K</text>
<text transform="matrix(2.216 0 0 0.230 303.39 140.28)" font-family="'Liberation Sans', Arial, sans-serif" font-size="10" font-weight="bold" fill="#cc33cc">Q</text>
<text transform="matrix(2.281 0 0 0.222 303.36 142.68)" font-family="'Liberation Sans', Arial, sans-serif" font-size="10" font-weight="bold" fill="#00cc00">G</text>
<text transform="translate(313.20 144.40) rotate(-90)" font-family="'Liberation Sans', Arial, sans-serif" font-size="4.8" fill="#111" text-anchor="end">13</text>
<text x="96.70" y="173.00" font-family="'Liberation Sans', Arial, sans-serif" font-size="16.7" font-weight="bold" font-style="italic" fill="#1168c0" text-anchor="start" >Drought-tolerant Down-regulated</text>
<path d="M210.40 176.50 L219.20 176.50 L214.80 183.10 Z" fill="#ff0000"/>
<rect x="112.00" y="185.60" width="209.08" height="51.20" fill="#ececec"/>
<rect x="112.70" y="186.30" width="15.26" height="16.20" fill="#4472c4"/>
<text x="120.33" y="198.11" font-family="'Liberation Sans', Arial, sans-serif" font-size="10.3" font-weight="bold" font-style="normal" fill="#fff" text-anchor="middle" >R</text>
<rect x="128.76" y="186.30" width="15.26" height="16.20" fill="#000000"/>
<text x="136.39" y="198.11" font-family="'Liberation Sans', Arial, sans-serif" font-size="10.3" font-weight="bold" font-style="normal" fill="#fff" text-anchor="middle" >I</text>
<rect x="144.82" y="186.30" width="15.26" height="16.20" fill="#000000"/>
<text x="152.45" y="198.11" font-family="'Liberation Sans', Arial, sans-serif" font-size="10.3" font-weight="bold" font-style="normal" fill="#fff" text-anchor="middle" >F</text>
<rect x="160.88" y="186.30" width="15.26" height="16.20" fill="#000000"/>
<text x="168.51" y="198.11" font-family="'Liberation Sans', Arial, sans-serif" font-size="10.3" font-weight="bold" font-style="normal" fill="#fff" text-anchor="middle" >L</text>
<rect x="176.94" y="186.30" width="15.26" height="16.20" fill="#ff3cf5"/>
<text x="184.57" y="198.11" font-family="'Liberation Sans', Arial, sans-serif" font-size="10.3" font-weight="bold" font-style="normal" fill="#fff" text-anchor="middle" >N</text>
<rect x="193.00" y="186.30" width="15.26" height="16.20" fill="#70ad47"/>
<text x="200.63" y="198.11" font-family="'Liberation Sans', Arial, sans-serif" font-size="10.3" font-weight="bold" font-style="normal" fill="#fff" text-anchor="middle" >G</text>
<rect x="209.06" y="186.30" width="15.26" height="16.20" fill="#70ad47"/>
<text x="216.69" y="198.11" font-family="'Liberation Sans', Arial, sans-serif" font-size="10.3" font-weight="bold" font-style="normal" fill="#fff" text-anchor="middle" >S</text>
<rect x="225.12" y="186.30" width="15.26" height="16.20" fill="#000000"/>
<text x="232.75" y="198.11" font-family="'Liberation Sans', Arial, sans-serif" font-size="10.3" font-weight="bold" font-style="normal" fill="#fff" text-anchor="middle" >P</text>
<rect x="241.18" y="186.30" width="15.26" height="16.20" fill="#be1006"/>
<text x="248.81" y="198.11" font-family="'Liberation Sans', Arial, sans-serif" font-size="10.3" font-weight="bold" font-style="normal" fill="#fff" text-anchor="middle" >E</text>
<rect x="257.24" y="186.30" width="15.26" height="16.20" fill="#4472c4"/>
<text x="264.87" y="198.11" font-family="'Liberation Sans', Arial, sans-serif" font-size="10.3" font-weight="bold" font-style="normal" fill="#fff" text-anchor="middle" >K</text>
<rect x="273.30" y="186.30" width="15.26" height="16.20" fill="#be1006"/>
<text x="280.93" y="198.11" font-family="'Liberation Sans', Arial, sans-serif" font-size="10.3" font-weight="bold" font-style="normal" fill="#fff" text-anchor="middle" >D</text>
<rect x="289.36" y="186.30" width="15.26" height="16.20" fill="#be1006"/>
<text x="296.99" y="198.11" font-family="'Liberation Sans', Arial, sans-serif" font-size="10.3" font-weight="bold" font-style="normal" fill="#fff" text-anchor="middle" >D</text>
<rect x="305.42" y="186.30" width="15.26" height="16.20" fill="#70ad47"/>
<text x="313.05" y="198.11" font-family="'Liberation Sans', Arial, sans-serif" font-size="10.3" font-weight="bold" font-style="normal" fill="#fff" text-anchor="middle" >G</text>
<text x="95.20" y="198.90" font-family="'Liberation Sans', Arial, sans-serif" font-size="8.7" font-weight="normal" font-style="normal" fill="#1a1a1a" text-anchor="end" >XP_003526458.1</text>
<text x="110.30" y="200.20" font-family="'Liberation Sans', Arial, sans-serif" font-size="6.4" font-weight="normal" font-style="normal" fill="#1a1a1a" text-anchor="end" >26</text>
<text x="323.70" y="200.50" font-family="'Liberation Sans', Arial, sans-serif" font-size="6.4" font-weight="normal" font-style="normal" fill="#1a1a1a" text-anchor="start" >38</text>
<text transform="translate(339.00 199.40) scale(0.925 1)" font-family="'Liberation Sans', Arial, sans-serif" font-size="8.7" fill="#1a1a1a">GmNST1</text>
<rect x="112.70" y="203.30" width="15.26" height="16.20" fill="#be1006"/>
<text x="120.33" y="215.11" font-family="'Liberation Sans', Arial, sans-serif" font-size="10.3" font-weight="bold" font-style="normal" fill="#fff" text-anchor="middle" >E</text>
<rect x="128.76" y="203.30" width="15.26" height="16.20" fill="#000000"/>
<text x="136.39" y="215.11" font-family="'Liberation Sans', Arial, sans-serif" font-size="10.3" font-weight="bold" font-style="normal" fill="#fff" text-anchor="middle" >P</text>
<rect x="144.82" y="203.30" width="15.26" height="16.20" fill="#4472c4"/>
<text x="152.45" y="215.11" font-family="'Liberation Sans', Arial, sans-serif" font-size="10.3" font-weight="bold" font-style="normal" fill="#fff" text-anchor="middle" >R</text>
<rect x="160.88" y="203.30" width="15.26" height="16.20" fill="#ff3cf5"/>
<text x="168.51" y="215.11" font-family="'Liberation Sans', Arial, sans-serif" font-size="10.3" font-weight="bold" font-style="normal" fill="#fff" text-anchor="middle" >Q</text>
<rect x="176.94" y="203.30" width="15.26" height="16.20" fill="#be1006"/>
<text x="184.57" y="215.11" font-family="'Liberation Sans', Arial, sans-serif" font-size="10.3" font-weight="bold" font-style="normal" fill="#fff" text-anchor="middle" >E</text>
<rect x="193.00" y="203.30" width="15.26" height="16.20" fill="#000000"/>
<text x="200.63" y="215.11" font-family="'Liberation Sans', Arial, sans-serif" font-size="10.3" font-weight="bold" font-style="normal" fill="#fff" text-anchor="middle" >A</text>
<rect x="209.06" y="203.30" width="15.26" height="16.20" fill="#70ad47"/>
<text x="216.69" y="215.11" font-family="'Liberation Sans', Arial, sans-serif" font-size="10.3" font-weight="bold" font-style="normal" fill="#fff" text-anchor="middle" >S</text>
<rect x="225.12" y="203.30" width="15.26" height="16.20" fill="#000000"/>
<text x="232.75" y="215.11" font-family="'Liberation Sans', Arial, sans-serif" font-size="10.3" font-weight="bold" font-style="normal" fill="#fff" text-anchor="middle" >P</text>
<rect x="241.18" y="203.30" width="15.26" height="16.20" fill="#70ad47"/>
<text x="248.81" y="215.11" font-family="'Liberation Sans', Arial, sans-serif" font-size="10.3" font-weight="bold" font-style="normal" fill="#fff" text-anchor="middle" >G</text>
<rect x="257.24" y="203.30" width="15.26" height="16.20" fill="#000000"/>
<text x="264.87" y="215.11" font-family="'Liberation Sans', Arial, sans-serif" font-size="10.3" font-weight="bold" font-style="normal" fill="#fff" text-anchor="middle" >L</text>
<rect x="273.30" y="203.30" width="15.26" height="16.20" fill="#4472c4"/>
<text x="280.93" y="215.11" font-family="'Liberation Sans', Arial, sans-serif" font-size="10.3" font-weight="bold" font-style="normal" fill="#fff" text-anchor="middle" >H</text>
<rect x="289.36" y="203.30" width="15.26" height="16.20" fill="#be1006"/>
<text x="296.99" y="215.11" font-family="'Liberation Sans', Arial, sans-serif" font-size="10.3" font-weight="bold" font-style="normal" fill="#fff" text-anchor="middle" >E</text>
<rect x="305.42" y="203.30" width="15.26" height="16.20" fill="#70ad47"/>
<text x="313.05" y="215.11" font-family="'Liberation Sans', Arial, sans-serif" font-size="10.3" font-weight="bold" font-style="normal" fill="#fff" text-anchor="middle" >G</text>
<text x="95.20" y="216.80" font-family="'Liberation Sans', Arial, sans-serif" font-size="8.7" font-weight="normal" font-style="normal" fill="#1a1a1a" text-anchor="end" >XP_003547888.1</text>
<text x="110.30" y="218.10" font-family="'Liberation Sans', Arial, sans-serif" font-size="6.4" font-weight="normal" font-style="normal" fill="#1a1a1a" text-anchor="end" >461</text>
<text x="323.70" y="218.40" font-family="'Liberation Sans', Arial, sans-serif" font-size="6.4" font-weight="normal" font-style="normal" fill="#1a1a1a" text-anchor="start" >473</text>
<text transform="translate(339.00 217.30) scale(0.925 1)" font-family="'Liberation Sans', Arial, sans-serif" font-size="8.7" fill="#1a1a1a">GmARID</text>
<rect x="112.70" y="220.30" width="15.26" height="16.20" fill="#ff3cf5"/>
<text x="120.33" y="232.11" font-family="'Liberation Sans', Arial, sans-serif" font-size="10.3" font-weight="bold" font-style="normal" fill="#fff" text-anchor="middle" >Q</text>
<rect x="128.76" y="220.30" width="15.26" height="16.20" fill="#be1006"/>
<text x="136.39" y="232.11" font-family="'Liberation Sans', Arial, sans-serif" font-size="10.3" font-weight="bold" font-style="normal" fill="#fff" text-anchor="middle" >D</text>
<rect x="144.82" y="220.30" width="15.26" height="16.20" fill="#4472c4"/>
<text x="152.45" y="232.11" font-family="'Liberation Sans', Arial, sans-serif" font-size="10.3" font-weight="bold" font-style="normal" fill="#fff" text-anchor="middle" >H</text>
<rect x="160.88" y="220.30" width="15.26" height="16.20" fill="#000000"/>
<text x="168.51" y="232.11" font-family="'Liberation Sans', Arial, sans-serif" font-size="10.3" font-weight="bold" font-style="normal" fill="#fff" text-anchor="middle" >A</text>
<rect x="176.94" y="220.30" width="15.26" height="16.20" fill="#70ad47"/>
<text x="184.57" y="232.11" font-family="'Liberation Sans', Arial, sans-serif" font-size="10.3" font-weight="bold" font-style="normal" fill="#fff" text-anchor="middle" >G</text>
<rect x="193.00" y="220.30" width="15.26" height="16.20" fill="#000000"/>
<text x="200.63" y="232.11" font-family="'Liberation Sans', Arial, sans-serif" font-size="10.3" font-weight="bold" font-style="normal" fill="#fff" text-anchor="middle" >F</text>
<rect x="209.06" y="220.30" width="15.26" height="16.20" fill="#70ad47"/>
<text x="216.69" y="232.11" font-family="'Liberation Sans', Arial, sans-serif" font-size="10.3" font-weight="bold" font-style="normal" fill="#fff" text-anchor="middle" >S</text>
<rect x="225.12" y="220.30" width="15.26" height="16.20" fill="#000000"/>
<text x="232.75" y="232.11" font-family="'Liberation Sans', Arial, sans-serif" font-size="10.3" font-weight="bold" font-style="normal" fill="#fff" text-anchor="middle" >P</text>
<rect x="241.18" y="220.30" width="15.26" height="16.20" fill="#000000"/>
<text x="248.81" y="232.11" font-family="'Liberation Sans', Arial, sans-serif" font-size="10.3" font-weight="bold" font-style="normal" fill="#fff" text-anchor="middle" >V</text>
<rect x="257.24" y="220.30" width="15.26" height="16.20" fill="#000000"/>
<text x="264.87" y="232.11" font-family="'Liberation Sans', Arial, sans-serif" font-size="10.3" font-weight="bold" font-style="normal" fill="#fff" text-anchor="middle" >I</text>
<rect x="273.30" y="220.30" width="15.26" height="16.20" fill="#70ad47"/>
<text x="280.93" y="232.11" font-family="'Liberation Sans', Arial, sans-serif" font-size="10.3" font-weight="bold" font-style="normal" fill="#fff" text-anchor="middle" >G</text>
<rect x="289.36" y="220.30" width="15.26" height="16.20" fill="#4472c4"/>
<text x="296.99" y="232.11" font-family="'Liberation Sans', Arial, sans-serif" font-size="10.3" font-weight="bold" font-style="normal" fill="#fff" text-anchor="middle" >K</text>
<rect x="305.42" y="220.30" width="15.26" height="16.20" fill="#000000"/>
<text x="313.05" y="232.11" font-family="'Liberation Sans', Arial, sans-serif" font-size="10.3" font-weight="bold" font-style="normal" fill="#fff" text-anchor="middle" >A</text>
<text x="95.20" y="233.40" font-family="'Liberation Sans', Arial, sans-serif" font-size="8.7" font-weight="normal" font-style="normal" fill="#1a1a1a" text-anchor="end" >XP_003545710.2</text>
<text x="110.30" y="234.70" font-family="'Liberation Sans', Arial, sans-serif" font-size="6.4" font-weight="normal" font-style="normal" fill="#1a1a1a" text-anchor="end" >818</text>
<text x="323.70" y="235.00" font-family="'Liberation Sans', Arial, sans-serif" font-size="6.4" font-weight="normal" font-style="normal" fill="#1a1a1a" text-anchor="start" >830</text>
<text transform="translate(339.00 233.90) scale(0.925 1)" font-family="'Liberation Sans', Arial, sans-serif" font-size="8.7" fill="#1a1a1a">GmRAF20</text>
<text transform="matrix(2.739 0 0 1.514 110.47 252.41)" font-family="'Liberation Sans', Arial, sans-serif" font-size="10" font-weight="bold" fill="#000000">P</text>
<text transform="matrix(2.529 0 0 0.885 110.61 258.90)" font-family="'Liberation Sans', Arial, sans-serif" font-size="10" font-weight="bold" fill="#dd1100">D</text>
<text transform="matrix(3.057 0 0 0.728 110.25 264.31)" font-family="'Liberation Sans', Arial, sans-serif" font-size="10" font-weight="bold" fill="#000000">F</text>
<text transform="matrix(2.763 0 0 0.571 110.45 268.63)" font-family="'Liberation Sans', Arial, sans-serif" font-size="10" font-weight="bold" fill="#dd1100">E</text>
<text transform="matrix(2.588 0 0 0.554 111.55 272.91)" font-family="'Liberation Sans', Arial, sans-serif" font-size="10" font-weight="bold" fill="#00cc00">S</text>
<text transform="matrix(2.632 0 0 0.492 112.01 276.75)" font-family="'Liberation Sans', Arial, sans-serif" font-size="10" font-weight="bold" fill="#00cc00">T</text>
<text transform="matrix(2.217 0 0 0.413 110.81 279.99)" font-family="'Liberation Sans', Arial, sans-serif" font-size="10" font-weight="bold" fill="#000000">M</text>
<text transform="matrix(2.230 0 0 0.257 111.39 282.19)" font-family="'Liberation Sans', Arial, sans-serif" font-size="10" font-weight="bold" fill="#cc33cc">Q</text>
<text transform="matrix(2.403 0 0 0.335 110.69 285.40)" font-family="'Liberation Sans', Arial, sans-serif" font-size="10" font-weight="bold" fill="#0000dd">K</text>
<text transform="matrix(2.296 0 0 0.325 111.36 288.07)" font-family="'Liberation Sans', Arial, sans-serif" font-size="10" font-weight="bold" fill="#00cc00">G</text>
<text transform="translate(121.25 290.00) rotate(-90)" font-family="'Liberation Sans', Arial, sans-serif" font-size="4.8" fill="#111" text-anchor="end">1</text>
<text transform="matrix(2.529 0 0 2.278 126.71 257.67)" font-family="'Liberation Sans', Arial, sans-serif" font-size="10" font-weight="bold" fill="#dd1100">D</text>
<text transform="matrix(2.460 0 0 0.609 132.73 262.27)" font-family="'Liberation Sans', Arial, sans-serif" font-size="10" font-weight="bold" fill="#000000">I</text>
<text transform="matrix(2.739 0 0 0.943 126.57 269.16)" font-family="'Liberation Sans', Arial, sans-serif" font-size="10" font-weight="bold" fill="#000000">P</text>
<text transform="matrix(2.374 0 0 0.776 128.23 274.90)" font-family="'Liberation Sans', Arial, sans-serif" font-size="10" font-weight="bold" fill="#000000">V</text>
<text transform="matrix(2.763 0 0 0.443 126.55 278.34)" font-family="'Liberation Sans', Arial, sans-serif" font-size="10" font-weight="bold" fill="#dd1100">E</text>
<text transform="matrix(2.296 0 0 0.430 127.46 281.74)" font-family="'Liberation Sans', Arial, sans-serif" font-size="10" font-weight="bold" fill="#00cc00">G</text>
<text transform="matrix(2.636 0 0 0.443 126.63 285.23)" font-family="'Liberation Sans', Arial, sans-serif" font-size="10" font-weight="bold" fill="#0000dd">H</text>
<text transform="matrix(2.588 0 0 0.349 127.65 288.07)" font-family="'Liberation Sans', Arial, sans-serif" font-size="10" font-weight="bold" fill="#00cc00">S</text>
<text transform="translate(137.35 290.00) rotate(-90)" font-family="'Liberation Sans', Arial, sans-serif" font-size="4.8" fill="#111" text-anchor="end">2</text>
<text transform="matrix(2.529 0 0 2.168 142.81 256.92)" font-family="'Liberation Sans', Arial, sans-serif" font-size="10" font-weight="bold" fill="#dd1100">D</text>
<text transform="matrix(2.310 0 0 0.737 143.92 262.39)" font-family="'Liberation Sans', Arial, sans-serif" font-size="10" font-weight="bold" fill="#000000">A</text>
<text transform="matrix(2.763 0 0 0.737 142.65 267.86)" font-family="'Liberation Sans', Arial, sans-serif" font-size="10" font-weight="bold" fill="#dd1100">E</text>
<text transform="matrix(2.296 0 0 0.716 143.56 273.26)" font-family="'Liberation Sans', Arial, sans-serif" font-size="10" font-weight="bold" fill="#00cc00">G</text>
<text transform="matrix(2.632 0 0 0.737 144.21 278.80)" font-family="'Liberation Sans', Arial, sans-serif" font-size="10" font-weight="bold" fill="#00cc00">T</text>
<text transform="matrix(3.057 0 0 0.419 142.45 282.08)" font-family="'Liberation Sans', Arial, sans-serif" font-size="10" font-weight="bold" fill="#000000">F</text>
<text transform="matrix(2.636 0 0 0.419 142.73 285.36)" font-family="'Liberation Sans', Arial, sans-serif" font-size="10" font-weight="bold" fill="#0000dd">H</text>
<text transform="matrix(2.588 0 0 0.330 143.75 288.07)" font-family="'Liberation Sans', Arial, sans-serif" font-size="10" font-weight="bold" fill="#00cc00">S</text>
<text transform="translate(153.45 290.00) rotate(-90)" font-family="'Liberation Sans', Arial, sans-serif" font-size="4.8" fill="#111" text-anchor="end">3</text>
<text transform="matrix(2.529 0 0 1.733 158.91 253.93)" font-family="'Liberation Sans', Arial, sans-serif" font-size="10" font-weight="bold" fill="#dd1100">D</text>
<text transform="matrix(3.021 0 0 0.919 158.58 260.65)" font-family="'Liberation Sans', Arial, sans-serif" font-size="10" font-weight="bold" fill="#000000">L</text>
<text transform="matrix(2.310 0 0 0.756 160.02 266.25)" font-family="'Liberation Sans', Arial, sans-serif" font-size="10" font-weight="bold" fill="#000000">A</text>
<text transform="matrix(2.763 0 0 0.756 158.75 271.85)" font-family="'Liberation Sans', Arial, sans-serif" font-size="10" font-weight="bold" fill="#dd1100">E</text>
<text transform="matrix(2.588 0 0 0.735 159.85 277.38)" font-family="'Liberation Sans', Arial, sans-serif" font-size="10" font-weight="bold" fill="#00cc00">S</text>
<text transform="matrix(2.217 0 0 0.593 159.11 281.94)" font-family="'Liberation Sans', Arial, sans-serif" font-size="10" font-weight="bold" fill="#000000">M</text>
<text transform="matrix(2.230 0 0 0.331 159.69 284.65)" font-family="'Liberation Sans', Arial, sans-serif" font-size="10" font-weight="bold" fill="#cc33cc">Q</text>
<text transform="matrix(2.296 0 0 0.339 159.66 288.07)" font-family="'Liberation Sans', Arial, sans-serif" font-size="10" font-weight="bold" fill="#00cc00">G</text>
<text transform="translate(169.55 290.00) rotate(-90)" font-family="'Liberation Sans', Arial, sans-serif" font-size="4.8" fill="#111" text-anchor="end">4</text>
<text transform="matrix(2.763 0 0 0.626 174.85 246.31)" font-family="'Liberation Sans', Arial, sans-serif" font-size="10" font-weight="bold" fill="#dd1100">E</text>
<text transform="matrix(2.460 0 0 0.797 181.03 252.19)" font-family="'Liberation Sans', Arial, sans-serif" font-size="10" font-weight="bold" fill="#000000">I</text>
<text transform="matrix(3.021 0 0 1.140 174.68 260.44)" font-family="'Liberation Sans', Arial, sans-serif" font-size="10" font-weight="bold" fill="#000000">L</text>
<text transform="matrix(2.230 0 0 0.613 175.79 265.11)" font-family="'Liberation Sans', Arial, sans-serif" font-size="10" font-weight="bold" fill="#cc33cc">Q</text>
<text transform="matrix(2.529 0 0 0.626 175.01 271.03)" font-family="'Liberation Sans', Arial, sans-serif" font-size="10" font-weight="bold" fill="#dd1100">D</text>
<text transform="matrix(2.588 0 0 0.609 175.95 275.68)" font-family="'Liberation Sans', Arial, sans-serif" font-size="10" font-weight="bold" fill="#00cc00">S</text>
<text transform="matrix(2.636 0 0 0.626 174.93 280.45)" font-family="'Liberation Sans', Arial, sans-serif" font-size="10" font-weight="bold" fill="#cc33cc">N</text>
<text transform="matrix(2.403 0 0 0.541 175.09 284.57)" font-family="'Liberation Sans', Arial, sans-serif" font-size="10" font-weight="bold" fill="#0000dd">K</text>
<text transform="matrix(2.374 0 0 0.455 176.53 288.10)" font-family="'Liberation Sans', Arial, sans-serif" font-size="10" font-weight="bold" fill="#000000">V</text>
<text transform="translate(185.65 290.00) rotate(-90)" font-family="'Liberation Sans', Arial, sans-serif" font-size="4.8" fill="#111" text-anchor="end">5</text>
<text transform="matrix(2.529 0 0 1.408 191.11 251.68)" font-family="'Liberation Sans', Arial, sans-serif" font-size="10" font-weight="bold" fill="#dd1100">D</text>
<text transform="matrix(2.296 0 0 1.051 191.86 259.42)" font-family="'Liberation Sans', Arial, sans-serif" font-size="10" font-weight="bold" fill="#00cc00">G</text>
<text transform="matrix(3.057 0 0 0.756 190.75 265.13)" font-family="'Liberation Sans', Arial, sans-serif" font-size="10" font-weight="bold" fill="#000000">F</text>
<text transform="matrix(2.636 0 0 0.919 191.03 271.85)" font-family="'Liberation Sans', Arial, sans-serif" font-size="10" font-weight="bold" fill="#cc33cc">N</text>
<text transform="matrix(2.310 0 0 0.593 192.22 276.33)" font-family="'Liberation Sans', Arial, sans-serif" font-size="10" font-weight="bold" fill="#000000">A</text>
<text transform="matrix(2.403 0 0 0.512 191.19 280.26)" font-family="'Liberation Sans', Arial, sans-serif" font-size="10" font-weight="bold" fill="#0000dd">K</text>
<text transform="matrix(3.021 0 0 0.512 190.78 284.18)" font-family="'Liberation Sans', Arial, sans-serif" font-size="10" font-weight="bold" fill="#000000">L</text>
<text transform="matrix(2.374 0 0 0.512 192.63 288.10)" font-family="'Liberation Sans', Arial, sans-serif" font-size="10" font-weight="bold" fill="#000000">V</text>
<text transform="translate(201.75 290.00) rotate(-90)" font-family="'Liberation Sans', Arial, sans-serif" font-size="4.8" fill="#111" text-anchor="end">6</text>
<text transform="matrix(2.588 0 0 6.511 208.15 287.45)" font-family="'Liberation Sans', Arial, sans-serif" font-size="10" font-weight="bold" fill="#00cc00">S</text>
<text transform="translate(217.85 290.00) rotate(-90)" font-family="'Liberation Sans', Arial, sans-serif" font-size="4.8" fill="#111" text-anchor="end">7</text>
<text transform="matrix(2.739 0 0 6.701 223.17 288.10)" font-family="'Liberation Sans', Arial, sans-serif" font-size="10" font-weight="bold" fill="#000000">P</text>
<text transform="translate(233.95 290.00) rotate(-90)" font-family="'Liberation Sans', Arial, sans-serif" font-size="4.8" fill="#111" text-anchor="end">8</text>
<text transform="matrix(2.445 0 0 1.691 239.46 253.64)" font-family="'Liberation Sans', Arial, sans-serif" font-size="10" font-weight="bold" fill="#0000dd">R</text>
<text transform="matrix(2.310 0 0 0.896 240.52 260.20)" font-family="'Liberation Sans', Arial, sans-serif" font-size="10" font-weight="bold" fill="#000000">A</text>
<text transform="matrix(2.403 0 0 0.737 239.49 265.67)" font-family="'Liberation Sans', Arial, sans-serif" font-size="10" font-weight="bold" fill="#0000dd">K</text>
<text transform="matrix(2.588 0 0 0.871 240.35 272.15)" font-family="'Liberation Sans', Arial, sans-serif" font-size="10" font-weight="bold" fill="#00cc00">S</text>
<text transform="matrix(2.374 0 0 0.657 240.93 277.16)" font-family="'Liberation Sans', Arial, sans-serif" font-size="10" font-weight="bold" fill="#000000">V</text>
<text transform="matrix(2.763 0 0 0.498 239.25 280.99)" font-family="'Liberation Sans', Arial, sans-serif" font-size="10" font-weight="bold" fill="#dd1100">E</text>
<text transform="matrix(2.296 0 0 0.484 240.16 284.77)" font-family="'Liberation Sans', Arial, sans-serif" font-size="10" font-weight="bold" fill="#00cc00">G</text>
<text transform="matrix(2.739 0 0 0.419 239.27 288.10)" font-family="'Liberation Sans', Arial, sans-serif" font-size="10" font-weight="bold" fill="#000000">P</text>
<text transform="translate(250.05 290.00) rotate(-90)" font-family="'Liberation Sans', Arial, sans-serif" font-size="4.8" fill="#111" text-anchor="end">9</text>
<text transform="matrix(2.460 0 0 0.746 261.53 247.14)" font-family="'Liberation Sans', Arial, sans-serif" font-size="10" font-weight="bold" fill="#000000">I</text>
<text transform="matrix(3.021 0 0 0.746 255.18 252.67)" font-family="'Liberation Sans', Arial, sans-serif" font-size="10" font-weight="bold" fill="#000000">L</text>
<text transform="matrix(2.636 0 0 0.907 255.43 259.31)" font-family="'Liberation Sans', Arial, sans-serif" font-size="10" font-weight="bold" fill="#cc33cc">N</text>
<text transform="matrix(2.739 0 0 0.746 255.37 264.85)" font-family="'Liberation Sans', Arial, sans-serif" font-size="10" font-weight="bold" fill="#000000">P</text>
<text transform="matrix(2.588 0 0 0.882 256.45 271.40)" font-family="'Liberation Sans', Arial, sans-serif" font-size="10" font-weight="bold" fill="#00cc00">S</text>
<text transform="matrix(2.374 0 0 0.586 257.03 275.92)" font-family="'Liberation Sans', Arial, sans-serif" font-size="10" font-weight="bold" fill="#000000">V</text>
<text transform="matrix(2.403 0 0 0.586 255.59 280.35)" font-family="'Liberation Sans', Arial, sans-serif" font-size="10" font-weight="bold" fill="#0000dd">K</text>
<text transform="matrix(2.296 0 0 0.569 256.26 284.72)" font-family="'Liberation Sans', Arial, sans-serif" font-size="10" font-weight="bold" fill="#00cc00">G</text>
<text transform="matrix(2.445 0 0 0.425 256.78 288.10)" font-family="'Liberation Sans', Arial, sans-serif" font-size="10" font-weight="bold" fill="#000000">Y</text>
<text transform="translate(266.15 290.00) rotate(-90)" font-family="'Liberation Sans', Arial, sans-serif" font-size="4.8" fill="#111" text-anchor="end">10</text>
<text transform="matrix(2.588 0 0 1.403 272.55 251.79)" font-family="'Liberation Sans', Arial, sans-serif" font-size="10" font-weight="bold" fill="#00cc00">S</text>
<text transform="matrix(2.296 0 0 0.819 272.36 258.05)" font-family="'Liberation Sans', Arial, sans-serif" font-size="10" font-weight="bold" fill="#00cc00">G</text>
<text transform="matrix(2.529 0 0 0.843 271.61 264.33)" font-family="'Liberation Sans', Arial, sans-serif" font-size="10" font-weight="bold" fill="#dd1100">D</text>
<text transform="matrix(2.636 0 0 0.618 271.53 268.98)" font-family="'Liberation Sans', Arial, sans-serif" font-size="10" font-weight="bold" fill="#0000dd">H</text>
<text transform="matrix(2.460 0 0 0.543 277.63 273.12)" font-family="'Liberation Sans', Arial, sans-serif" font-size="10" font-weight="bold" fill="#000000">I</text>
<text transform="matrix(2.636 0 0 0.543 271.53 277.25)" font-family="'Liberation Sans', Arial, sans-serif" font-size="10" font-weight="bold" fill="#cc33cc">N</text>
<text transform="matrix(2.374 0 0 0.543 273.13 281.38)" font-family="'Liberation Sans', Arial, sans-serif" font-size="10" font-weight="bold" fill="#000000">V</text>
<text transform="matrix(2.403 0 0 0.468 271.69 285.00)" font-family="'Liberation Sans', Arial, sans-serif" font-size="10" font-weight="bold" fill="#0000dd">K</text>
<text transform="matrix(2.632 0 0 0.392 273.01 288.10)" font-family="'Liberation Sans', Arial, sans-serif" font-size="10" font-weight="bold" fill="#00cc00">T</text>
<text transform="translate(282.25 290.00) rotate(-90)" font-family="'Liberation Sans', Arial, sans-serif" font-size="4.8" fill="#111" text-anchor="end">11</text>
<text transform="matrix(2.403 0 0 1.461 287.79 252.05)" font-family="'Liberation Sans', Arial, sans-serif" font-size="10" font-weight="bold" fill="#0000dd">K</text>
<text transform="matrix(2.310 0 0 0.853 288.82 258.32)" font-family="'Liberation Sans', Arial, sans-serif" font-size="10" font-weight="bold" fill="#000000">A</text>
<text transform="matrix(2.529 0 0 0.929 287.71 265.11)" font-family="'Liberation Sans', Arial, sans-serif" font-size="10" font-weight="bold" fill="#dd1100">D</text>
<text transform="matrix(2.636 0 0 0.701 287.63 270.34)" font-family="'Liberation Sans', Arial, sans-serif" font-size="10" font-weight="bold" fill="#0000dd">H</text>
<text transform="matrix(2.763 0 0 0.549 287.55 274.52)" font-family="'Liberation Sans', Arial, sans-serif" font-size="10" font-weight="bold" fill="#dd1100">E</text>
<text transform="matrix(2.588 0 0 0.534 288.65 278.64)" font-family="'Liberation Sans', Arial, sans-serif" font-size="10" font-weight="bold" fill="#00cc00">S</text>
<text transform="matrix(3.021 0 0 0.398 287.38 281.83)" font-family="'Liberation Sans', Arial, sans-serif" font-size="10" font-weight="bold" fill="#000000">L</text>
<text transform="matrix(2.636 0 0 0.398 287.63 284.97)" font-family="'Liberation Sans', Arial, sans-serif" font-size="10" font-weight="bold" fill="#cc33cc">N</text>
<text transform="matrix(2.632 0 0 0.398 289.11 288.10)" font-family="'Liberation Sans', Arial, sans-serif" font-size="10" font-weight="bold" fill="#00cc00">T</text>
<text transform="translate(298.35 290.00) rotate(-90)" font-family="'Liberation Sans', Arial, sans-serif" font-size="4.8" fill="#111" text-anchor="end">12</text>
<text transform="matrix(2.296 0 0 1.526 304.56 252.65)" font-family="'Liberation Sans', Arial, sans-serif" font-size="10" font-weight="bold" fill="#00cc00">G</text>
<text transform="matrix(3.021 0 0 0.919 303.48 259.53)" font-family="'Liberation Sans', Arial, sans-serif" font-size="10" font-weight="bold" fill="#000000">L</text>
<text transform="matrix(2.230 0 0 0.581 304.59 263.99)" font-family="'Liberation Sans', Arial, sans-serif" font-size="10" font-weight="bold" fill="#cc33cc">Q</text>
<text transform="matrix(2.445 0 0 0.919 303.86 271.85)" font-family="'Liberation Sans', Arial, sans-serif" font-size="10" font-weight="bold" fill="#0000dd">R</text>
<text transform="matrix(2.310 0 0 0.593 304.92 276.33)" font-family="'Liberation Sans', Arial, sans-serif" font-size="10" font-weight="bold" fill="#000000">A</text>
<text transform="matrix(2.460 0 0 0.430 309.83 279.70)" font-family="'Liberation Sans', Arial, sans-serif" font-size="10" font-weight="bold" fill="#000000">I</text>
<text transform="matrix(2.636 0 0 0.593 303.73 284.18)" font-family="'Liberation Sans', Arial, sans-serif" font-size="10" font-weight="bold" fill="#cc33cc">N</text>
<text transform="matrix(2.632 0 0 0.512 305.21 288.10)" font-family="'Liberation Sans', Arial, sans-serif" font-size="10" font-weight="bold" fill="#00cc00">T</text>
<text transform="translate(314.45 290.00) rotate(-90)" font-family="'Liberation Sans', Arial, sans-serif" font-size="4.8" fill="#111" text-anchor="end">13</text>
<path d="M214.30 298.80 L223.10 298.80 L218.70 305.40 Z" fill="#ff0000"/>
<rect x="112.40" y="309.20" width="212.72" height="54.05" fill="#ececec"/>
<rect x="113.10" y="309.90" width="15.54" height="17.15" fill="#70ad47"/>
<text x="120.87" y="322.18" font-family="'Liberation Sans', Arial, sans-serif" font-size="10.3" font-weight="bold" font-style="normal" fill="#fff" text-anchor="middle" >S</text>
<rect x="129.44" y="309.90" width="15.54" height="17.15" fill="#be1006"/>
<text x="137.21" y="322.18" font-family="'Liberation Sans', Arial, sans-serif" font-size="10.3" font-weight="bold" font-style="normal" fill="#fff" text-anchor="middle" >E</text>
<rect x="145.78" y="309.90" width="15.54" height="17.15" fill="#000000"/>
<text x="153.55" y="322.18" font-family="'Liberation Sans', Arial, sans-serif" font-size="10.3" font-weight="bold" font-style="normal" fill="#fff" text-anchor="middle" >V</text>
<rect x="162.12" y="309.90" width="15.54" height="17.15" fill="#4472c4"/>
<text x="169.89" y="322.18" font-family="'Liberation Sans', Arial, sans-serif" font-size="10.3" font-weight="bold" font-style="normal" fill="#fff" text-anchor="middle" >H</text>
<rect x="178.46" y="309.90" width="15.54" height="17.15" fill="#be1006"/>
<text x="186.23" y="322.18" font-family="'Liberation Sans', Arial, sans-serif" font-size="10.3" font-weight="bold" font-style="normal" fill="#fff" text-anchor="middle" >E</text>
<rect x="194.80" y="309.90" width="15.54" height="17.15" fill="#000000"/>
<text x="202.57" y="322.18" font-family="'Liberation Sans', Arial, sans-serif" font-size="10.3" font-weight="bold" font-style="normal" fill="#fff" text-anchor="middle" >I</text>
<rect x="211.14" y="309.90" width="15.54" height="17.15" fill="#70ad47"/>
<text x="218.91" y="322.18" font-family="'Liberation Sans', Arial, sans-serif" font-size="10.3" font-weight="bold" font-style="normal" fill="#fff" text-anchor="middle" >S</text>
<rect x="227.48" y="309.90" width="15.54" height="17.15" fill="#be1006"/>
<text x="235.25" y="322.18" font-family="'Liberation Sans', Arial, sans-serif" font-size="10.3" font-weight="bold" font-style="normal" fill="#fff" text-anchor="middle" >D</text>
<rect x="243.82" y="309.90" width="15.54" height="17.15" fill="#70ad47"/>
<text x="251.59" y="322.18" font-family="'Liberation Sans', Arial, sans-serif" font-size="10.3" font-weight="bold" font-style="normal" fill="#fff" text-anchor="middle" >G</text>
<rect x="260.16" y="309.90" width="15.54" height="17.15" fill="#be1006"/>
<text x="267.93" y="322.18" font-family="'Liberation Sans', Arial, sans-serif" font-size="10.3" font-weight="bold" font-style="normal" fill="#fff" text-anchor="middle" >E</text>
<rect x="276.50" y="309.90" width="15.54" height="17.15" fill="#000000"/>
<text x="284.27" y="322.18" font-family="'Liberation Sans', Arial, sans-serif" font-size="10.3" font-weight="bold" font-style="normal" fill="#fff" text-anchor="middle" >L</text>
<rect x="292.84" y="309.90" width="15.54" height="17.15" fill="#be1006"/>
<text x="300.61" y="322.18" font-family="'Liberation Sans', Arial, sans-serif" font-size="10.3" font-weight="bold" font-style="normal" fill="#fff" text-anchor="middle" >E</text>
<rect x="309.18" y="309.90" width="15.54" height="17.15" fill="#000000"/>
<text x="316.95" y="322.18" font-family="'Liberation Sans', Arial, sans-serif" font-size="10.3" font-weight="bold" font-style="normal" fill="#fff" text-anchor="middle" >V</text>
<text x="95.20" y="322.90" font-family="'Liberation Sans', Arial, sans-serif" font-size="8.7" font-weight="normal" font-style="normal" fill="#1a1a1a" text-anchor="end" >XP_006599215.1</text>
<text x="110.30" y="324.20" font-family="'Liberation Sans', Arial, sans-serif" font-size="6.4" font-weight="normal" font-style="normal" fill="#1a1a1a" text-anchor="end" >603</text>
<text x="327.70" y="324.50" font-family="'Liberation Sans', Arial, sans-serif" font-size="6.4" font-weight="normal" font-style="normal" fill="#1a1a1a" text-anchor="start" >615</text>
<text transform="translate(343.70 323.40) scale(0.925 1)" font-family="'Liberation Sans', Arial, sans-serif" font-size="8.7" fill="#1a1a1a">GmCMT2</text>
<rect x="113.10" y="327.85" width="15.54" height="17.15" fill="#4472c4"/>
<text x="120.87" y="340.13" font-family="'Liberation Sans', Arial, sans-serif" font-size="10.3" font-weight="bold" font-style="normal" fill="#fff" text-anchor="middle" >R</text>
<rect x="129.44" y="327.85" width="15.54" height="17.15" fill="#4472c4"/>
<text x="137.21" y="340.13" font-family="'Liberation Sans', Arial, sans-serif" font-size="10.3" font-weight="bold" font-style="normal" fill="#fff" text-anchor="middle" >K</text>
<rect x="145.78" y="327.85" width="15.54" height="17.15" fill="#000000"/>
<text x="153.55" y="340.13" font-family="'Liberation Sans', Arial, sans-serif" font-size="10.3" font-weight="bold" font-style="normal" fill="#fff" text-anchor="middle" >F</text>
<rect x="162.12" y="327.85" width="15.54" height="17.15" fill="#ff3cf5"/>
<text x="169.89" y="340.13" font-family="'Liberation Sans', Arial, sans-serif" font-size="10.3" font-weight="bold" font-style="normal" fill="#fff" text-anchor="middle" >Q</text>
<rect x="178.46" y="327.85" width="15.54" height="17.15" fill="#000000"/>
<text x="186.23" y="340.13" font-family="'Liberation Sans', Arial, sans-serif" font-size="10.3" font-weight="bold" font-style="normal" fill="#fff" text-anchor="middle" >P</text>
<rect x="194.80" y="327.85" width="15.54" height="17.15" fill="#4472c4"/>
<text x="202.57" y="340.13" font-family="'Liberation Sans', Arial, sans-serif" font-size="10.3" font-weight="bold" font-style="normal" fill="#fff" text-anchor="middle" >R</text>
<rect x="211.14" y="327.85" width="15.54" height="17.15" fill="#70ad47"/>
<text x="218.91" y="340.13" font-family="'Liberation Sans', Arial, sans-serif" font-size="10.3" font-weight="bold" font-style="normal" fill="#fff" text-anchor="middle" >S</text>
<rect x="227.48" y="327.85" width="15.54" height="17.15" fill="#be1006"/>
<text x="235.25" y="340.13" font-family="'Liberation Sans', Arial, sans-serif" font-size="10.3" font-weight="bold" font-style="normal" fill="#fff" text-anchor="middle" >D</text>
<rect x="243.82" y="327.85" width="15.54" height="17.15" fill="#be1006"/>
<text x="251.59" y="340.13" font-family="'Liberation Sans', Arial, sans-serif" font-size="10.3" font-weight="bold" font-style="normal" fill="#fff" text-anchor="middle" >D</text>
<rect x="260.16" y="327.85" width="15.54" height="17.15" fill="#be1006"/>
<text x="267.93" y="340.13" font-family="'Liberation Sans', Arial, sans-serif" font-size="10.3" font-weight="bold" font-style="normal" fill="#fff" text-anchor="middle" >D</text>
<rect x="276.50" y="327.85" width="15.54" height="17.15" fill="#be1006"/>
<text x="284.27" y="340.13" font-family="'Liberation Sans', Arial, sans-serif" font-size="10.3" font-weight="bold" font-style="normal" fill="#fff" text-anchor="middle" >D</text>
<rect x="292.84" y="327.85" width="15.54" height="17.15" fill="#be1006"/>
<text x="300.61" y="340.13" font-family="'Liberation Sans', Arial, sans-serif" font-size="10.3" font-weight="bold" font-style="normal" fill="#fff" text-anchor="middle" >D</text>
<rect x="309.18" y="327.85" width="15.54" height="17.15" fill="#be1006"/>
<text x="316.95" y="340.13" font-family="'Liberation Sans', Arial, sans-serif" font-size="10.3" font-weight="bold" font-style="normal" fill="#fff" text-anchor="middle" >D</text>
<text x="95.20" y="341.20" font-family="'Liberation Sans', Arial, sans-serif" font-size="8.7" font-weight="normal" font-style="normal" fill="#1a1a1a" text-anchor="end" >XP_003548422.1</text>
<text x="110.30" y="342.50" font-family="'Liberation Sans', Arial, sans-serif" font-size="6.4" font-weight="normal" font-style="normal" fill="#1a1a1a" text-anchor="end" >243</text>
<text x="327.70" y="342.80" font-family="'Liberation Sans', Arial, sans-serif" font-size="6.4" font-weight="normal" font-style="normal" fill="#1a1a1a" text-anchor="start" >255</text>
<text transform="translate(343.70 341.70) scale(0.925 1)" font-family="'Liberation Sans', Arial, sans-serif" font-size="8.7" fill="#1a1a1a">GmDDX31</text>
<rect x="113.10" y="345.80" width="15.54" height="17.15" fill="#000000"/>
<text x="120.87" y="358.08" font-family="'Liberation Sans', Arial, sans-serif" font-size="10.3" font-weight="bold" font-style="normal" fill="#fff" text-anchor="middle" >A</text>
<rect x="129.44" y="345.80" width="15.54" height="17.15" fill="#ff3cf5"/>
<text x="137.21" y="358.08" font-family="'Liberation Sans', Arial, sans-serif" font-size="10.3" font-weight="bold" font-style="normal" fill="#fff" text-anchor="middle" >Q</text>
<rect x="145.78" y="345.80" width="15.54" height="17.15" fill="#000000"/>
<text x="153.55" y="358.08" font-family="'Liberation Sans', Arial, sans-serif" font-size="10.3" font-weight="bold" font-style="normal" fill="#fff" text-anchor="middle" >P</text>
<rect x="162.12" y="345.80" width="15.54" height="17.15" fill="#4472c4"/>
<text x="169.89" y="358.08" font-family="'Liberation Sans', Arial, sans-serif" font-size="10.3" font-weight="bold" font-style="normal" fill="#fff" text-anchor="middle" >K</text>
<rect x="178.46" y="345.80" width="15.54" height="17.15" fill="#ff3cf5"/>
<text x="186.23" y="358.08" font-family="'Liberation Sans', Arial, sans-serif" font-size="10.3" font-weight="bold" font-style="normal" fill="#fff" text-anchor="middle" >N</text>
<rect x="194.80" y="345.80" width="15.54" height="17.15" fill="#000000"/>
<text x="202.57" y="358.08" font-family="'Liberation Sans', Arial, sans-serif" font-size="10.3" font-weight="bold" font-style="normal" fill="#fff" text-anchor="middle" >L</text>
<rect x="211.14" y="345.80" width="15.54" height="17.15" fill="#70ad47"/>
<text x="218.91" y="358.08" font-family="'Liberation Sans', Arial, sans-serif" font-size="10.3" font-weight="bold" font-style="normal" fill="#fff" text-anchor="middle" >S</text>
<rect x="227.48" y="345.80" width="15.54" height="17.15" fill="#be1006"/>
<text x="235.25" y="358.08" font-family="'Liberation Sans', Arial, sans-serif" font-size="10.3" font-weight="bold" font-style="normal" fill="#fff" text-anchor="middle" >D</text>
<rect x="243.82" y="345.80" width="15.54" height="17.15" fill="#000000"/>
<text x="251.59" y="358.08" font-family="'Liberation Sans', Arial, sans-serif" font-size="10.3" font-weight="bold" font-style="normal" fill="#fff" text-anchor="middle" >P</text>
<rect x="260.16" y="345.80" width="15.54" height="17.15" fill="#000000"/>
<text x="267.93" y="358.08" font-family="'Liberation Sans', Arial, sans-serif" font-size="10.3" font-weight="bold" font-style="normal" fill="#fff" text-anchor="middle" >F</text>
<rect x="276.50" y="345.80" width="15.54" height="17.15" fill="#000000"/>
<text x="284.27" y="358.08" font-family="'Liberation Sans', Arial, sans-serif" font-size="10.3" font-weight="bold" font-style="normal" fill="#fff" text-anchor="middle" >L</text>
<rect x="292.84" y="345.80" width="15.54" height="17.15" fill="#4472c4"/>
<text x="300.61" y="358.08" font-family="'Liberation Sans', Arial, sans-serif" font-size="10.3" font-weight="bold" font-style="normal" fill="#fff" text-anchor="middle" >R</text>
<rect x="309.18" y="345.80" width="15.54" height="17.15" fill="#be1006"/>
<text x="316.95" y="358.08" font-family="'Liberation Sans', Arial, sans-serif" font-size="10.3" font-weight="bold" font-style="normal" fill="#fff" text-anchor="middle" >E</text>
<text x="95.20" y="359.40" font-family="'Liberation Sans', Arial, sans-serif" font-size="8.7" font-weight="normal" font-style="normal" fill="#1a1a1a" text-anchor="end" >NP_001236325.1</text>
<text x="110.30" y="360.70" font-family="'Liberation Sans', Arial, sans-serif" font-size="6.4" font-weight="normal" font-style="normal" fill="#1a1a1a" text-anchor="end" >144</text>
<text x="327.70" y="361.00" font-family="'Liberation Sans', Arial, sans-serif" font-size="6.4" font-weight="normal" font-style="normal" fill="#1a1a1a" text-anchor="start" >156</text>
<text transform="translate(343.70 359.90) scale(0.925 1)" font-family="'Liberation Sans', Arial, sans-serif" font-size="8.7" fill="#1a1a1a">GmBFRUCT1</text>
<text transform="matrix(2.804 0 0 0.765 110.62 373.76)" font-family="'Liberation Sans', Arial, sans-serif" font-size="10" font-weight="bold" fill="#dd1100">E</text>
<text transform="matrix(2.439 0 0 0.847 110.87 379.99)" font-family="'Liberation Sans', Arial, sans-serif" font-size="10" font-weight="bold" fill="#0000dd">K</text>
<text transform="matrix(3.066 0 0 0.683 110.45 385.09)" font-family="'Liberation Sans', Arial, sans-serif" font-size="10" font-weight="bold" fill="#000000">L</text>
<text transform="matrix(2.626 0 0 0.823 111.74 391.23)" font-family="'Liberation Sans', Arial, sans-serif" font-size="10" font-weight="bold" fill="#00cc00">S</text>
<text transform="matrix(2.804 0 0 0.518 110.62 395.28)" font-family="'Liberation Sans', Arial, sans-serif" font-size="10" font-weight="bold" fill="#dd1100">E</text>
<text transform="matrix(2.671 0 0 0.518 112.21 399.24)" font-family="'Liberation Sans', Arial, sans-serif" font-size="10" font-weight="bold" fill="#00cc00">T</text>
<text transform="matrix(2.263 0 0 0.461 111.57 402.87)" font-family="'Liberation Sans', Arial, sans-serif" font-size="10" font-weight="bold" fill="#cc33cc">Q</text>
<text transform="matrix(2.675 0 0 0.353 110.71 406.61)" font-family="'Liberation Sans', Arial, sans-serif" font-size="10" font-weight="bold" fill="#cc33cc">N</text>
<text transform="matrix(2.439 0 0 0.353 110.87 409.44)" font-family="'Liberation Sans', Arial, sans-serif" font-size="10" font-weight="bold" fill="#0000dd">K</text>
<text transform="matrix(2.409 0 0 0.436 112.33 412.83)" font-family="'Liberation Sans', Arial, sans-serif" font-size="10" font-weight="bold" fill="#000000">V</text>
<text transform="matrix(2.330 0 0 0.263 111.54 415.07)" font-family="'Liberation Sans', Arial, sans-serif" font-size="10" font-weight="bold" fill="#00cc00">G</text>
<text transform="translate(121.57 417.00) rotate(-90)" font-family="'Liberation Sans', Arial, sans-serif" font-size="4.8" fill="#111" text-anchor="end">1</text>
<text transform="matrix(2.804 0 0 2.325 126.95 384.50)" font-family="'Liberation Sans', Arial, sans-serif" font-size="10" font-weight="bold" fill="#dd1100">E</text>
<text transform="matrix(2.344 0 0 0.736 128.24 389.96)" font-family="'Liberation Sans', Arial, sans-serif" font-size="10" font-weight="bold" fill="#000000">A</text>
<text transform="matrix(3.066 0 0 0.816 126.78 395.97)" font-family="'Liberation Sans', Arial, sans-serif" font-size="10" font-weight="bold" fill="#000000">L</text>
<text transform="matrix(2.439 0 0 0.736 127.20 401.44)" font-family="'Liberation Sans', Arial, sans-serif" font-size="10" font-weight="bold" fill="#0000dd">K</text>
<text transform="matrix(2.481 0 0 0.736 127.17 406.90)" font-family="'Liberation Sans', Arial, sans-serif" font-size="10" font-weight="bold" fill="#0000dd">R</text>
<text transform="matrix(2.263 0 0 0.383 127.90 409.97)" font-family="'Liberation Sans', Arial, sans-serif" font-size="10" font-weight="bold" fill="#cc33cc">Q</text>
<text transform="matrix(2.409 0 0 0.577 128.66 415.10)" font-family="'Liberation Sans', Arial, sans-serif" font-size="10" font-weight="bold" fill="#000000">V</text>
<text transform="translate(137.89 417.00) rotate(-90)" font-family="'Liberation Sans', Arial, sans-serif" font-size="4.8" fill="#111" text-anchor="end">2</text>
<text transform="matrix(2.804 0 0 1.341 143.28 377.73)" font-family="'Liberation Sans', Arial, sans-serif" font-size="10" font-weight="bold" fill="#dd1100">E</text>
<text transform="matrix(2.626 0 0 0.983 144.40 384.99)" font-family="'Liberation Sans', Arial, sans-serif" font-size="10" font-weight="bold" fill="#00cc00">S</text>
<text transform="matrix(3.103 0 0 0.683 143.08 390.18)" font-family="'Liberation Sans', Arial, sans-serif" font-size="10" font-weight="bold" fill="#000000">F</text>
<text transform="matrix(2.250 0 0 0.847 143.65 396.41)" font-family="'Liberation Sans', Arial, sans-serif" font-size="10" font-weight="bold" fill="#000000">M</text>
<text transform="matrix(3.066 0 0 0.600 143.11 400.94)" font-family="'Liberation Sans', Arial, sans-serif" font-size="10" font-weight="bold" fill="#000000">L</text>
<text transform="matrix(2.409 0 0 0.930 144.99 407.74)" font-family="'Liberation Sans', Arial, sans-serif" font-size="10" font-weight="bold" fill="#000000">V</text>
<text transform="matrix(2.439 0 0 0.436 143.53 411.14)" font-family="'Liberation Sans', Arial, sans-serif" font-size="10" font-weight="bold" fill="#0000dd">K</text>
<text transform="matrix(2.671 0 0 0.518 144.87 415.10)" font-family="'Liberation Sans', Arial, sans-serif" font-size="10" font-weight="bold" fill="#00cc00">T</text>
<text transform="translate(154.22 417.00) rotate(-90)" font-family="'Liberation Sans', Arial, sans-serif" font-size="4.8" fill="#111" text-anchor="end">3</text>
<text transform="matrix(2.344 0 0 1.106 160.90 376.11)" font-family="'Liberation Sans', Arial, sans-serif" font-size="10" font-weight="bold" fill="#000000">A</text>
<text transform="matrix(2.439 0 0 1.106 159.86 384.12)" font-family="'Liberation Sans', Arial, sans-serif" font-size="10" font-weight="bold" fill="#0000dd">K</text>
<text transform="matrix(2.779 0 0 1.029 159.63 391.60)" font-family="'Liberation Sans', Arial, sans-serif" font-size="10" font-weight="bold" fill="#000000">P</text>
<text transform="matrix(2.330 0 0 0.773 160.53 397.40)" font-family="'Liberation Sans', Arial, sans-serif" font-size="10" font-weight="bold" fill="#00cc00">G</text>
<text transform="matrix(2.481 0 0 0.718 159.83 402.82)" font-family="'Liberation Sans', Arial, sans-serif" font-size="10" font-weight="bold" fill="#0000dd">R</text>
<text transform="matrix(2.566 0 0 0.641 159.77 407.62)" font-family="'Liberation Sans', Arial, sans-serif" font-size="10" font-weight="bold" fill="#dd1100">D</text>
<text transform="matrix(2.675 0 0 0.485 159.70 411.36)" font-family="'Liberation Sans', Arial, sans-serif" font-size="10" font-weight="bold" fill="#cc33cc">N</text>
<text transform="matrix(2.409 0 0 0.485 161.32 415.10)" font-family="'Liberation Sans', Arial, sans-serif" font-size="10" font-weight="bold" fill="#000000">V</text>
<text transform="translate(170.55 417.00) rotate(-90)" font-family="'Liberation Sans', Arial, sans-serif" font-size="4.8" fill="#111" text-anchor="end">4</text>
<text transform="matrix(2.804 0 0 2.298 175.94 384.31)" font-family="'Liberation Sans', Arial, sans-serif" font-size="10" font-weight="bold" fill="#dd1100">E</text>
<text transform="matrix(2.675 0 0 1.669 176.03 396.19)" font-family="'Liberation Sans', Arial, sans-serif" font-size="10" font-weight="bold" fill="#cc33cc">N</text>
<text transform="matrix(2.409 0 0 1.198 177.65 404.84)" font-family="'Liberation Sans', Arial, sans-serif" font-size="10" font-weight="bold" fill="#000000">V</text>
<text transform="matrix(2.626 0 0 0.554 177.06 409.10)" font-family="'Liberation Sans', Arial, sans-serif" font-size="10" font-weight="bold" fill="#00cc00">S</text>
<text transform="matrix(2.566 0 0 0.334 176.10 411.86)" font-family="'Liberation Sans', Arial, sans-serif" font-size="10" font-weight="bold" fill="#dd1100">D</text>
<text transform="matrix(2.439 0 0 0.413 176.19 415.10)" font-family="'Liberation Sans', Arial, sans-serif" font-size="10" font-weight="bold" fill="#0000dd">K</text>
<text transform="translate(186.88 417.00) rotate(-90)" font-family="'Liberation Sans', Arial, sans-serif" font-size="4.8" fill="#111" text-anchor="end">5</text>
<text transform="matrix(2.804 0 0 2.169 192.27 383.43)" font-family="'Liberation Sans', Arial, sans-serif" font-size="10" font-weight="bold" fill="#dd1100">E</text>
<text transform="matrix(2.566 0 0 1.575 192.43 394.67)" font-family="'Liberation Sans', Arial, sans-serif" font-size="10" font-weight="bold" fill="#dd1100">D</text>
<text transform="matrix(2.481 0 0 1.427 193.73 404.88)" font-family="'Liberation Sans', Arial, sans-serif" font-size="10" font-weight="bold" fill="#000000">Y</text>
<text transform="matrix(2.495 0 0 0.462 198.55 408.46)" font-family="'Liberation Sans', Arial, sans-serif" font-size="10" font-weight="bold" fill="#000000">I</text>
<text transform="matrix(2.344 0 0 0.462 193.56 412.03)" font-family="'Liberation Sans', Arial, sans-serif" font-size="10" font-weight="bold" fill="#000000">A</text>
<text transform="matrix(2.481 0 0 0.387 192.49 415.10)" font-family="'Liberation Sans', Arial, sans-serif" font-size="10" font-weight="bold" fill="#0000dd">R</text>
<text transform="translate(203.21 417.00) rotate(-90)" font-family="'Liberation Sans', Arial, sans-serif" font-size="4.8" fill="#111" text-anchor="end">6</text>
<text transform="matrix(2.626 0 0 6.051 209.72 410.73)" font-family="'Liberation Sans', Arial, sans-serif" font-size="10" font-weight="bold" fill="#00cc00">S</text>
<text transform="matrix(2.671 0 0 0.488 210.19 415.10)" font-family="'Liberation Sans', Arial, sans-serif" font-size="10" font-weight="bold" fill="#00cc00">T</text>
<text transform="translate(219.54 417.00) rotate(-90)" font-family="'Liberation Sans', Arial, sans-serif" font-size="4.8" fill="#111" text-anchor="end">7</text>
<text transform="matrix(2.566 0 0 6.773 225.09 415.10)" font-family="'Liberation Sans', Arial, sans-serif" font-size="10" font-weight="bold" fill="#dd1100">D</text>
<text transform="translate(235.87 417.00) rotate(-90)" font-family="'Liberation Sans', Arial, sans-serif" font-size="4.8" fill="#111" text-anchor="end">8</text>
<text transform="matrix(2.566 0 0 2.122 241.42 383.10)" font-family="'Liberation Sans', Arial, sans-serif" font-size="10" font-weight="bold" fill="#dd1100">D</text>
<text transform="matrix(2.804 0 0 0.814 241.26 389.10)" font-family="'Liberation Sans', Arial, sans-serif" font-size="10" font-weight="bold" fill="#dd1100">E</text>
<text transform="matrix(2.330 0 0 0.579 242.18 393.54)" font-family="'Liberation Sans', Arial, sans-serif" font-size="10" font-weight="bold" fill="#00cc00">G</text>
<text transform="matrix(2.675 0 0 0.669 241.35 398.60)" font-family="'Liberation Sans', Arial, sans-serif" font-size="10" font-weight="bold" fill="#cc33cc">N</text>
<text transform="matrix(2.344 0 0 0.523 242.55 402.60)" font-family="'Liberation Sans', Arial, sans-serif" font-size="10" font-weight="bold" fill="#000000">A</text>
<text transform="matrix(2.439 0 0 0.523 241.51 406.60)" font-family="'Liberation Sans', Arial, sans-serif" font-size="10" font-weight="bold" fill="#0000dd">K</text>
<text transform="matrix(3.066 0 0 0.378 241.09 409.60)" font-family="'Liberation Sans', Arial, sans-serif" font-size="10" font-weight="bold" fill="#000000">L</text>
<text transform="matrix(2.263 0 0 0.235 242.21 411.64)" font-family="'Liberation Sans', Arial, sans-serif" font-size="10" font-weight="bold" fill="#cc33cc">Q</text>
<text transform="matrix(2.626 0 0 0.367 242.38 415.06)" font-family="'Liberation Sans', Arial, sans-serif" font-size="10" font-weight="bold" fill="#00cc00">S</text>
<text transform="translate(252.20 417.00) rotate(-90)" font-family="'Liberation Sans', Arial, sans-serif" font-size="4.8" fill="#111" text-anchor="end">9</text>
<text transform="matrix(2.804 0 0 1.541 257.59 379.10)" font-family="'Liberation Sans', Arial, sans-serif" font-size="10" font-weight="bold" fill="#dd1100">E</text>
<text transform="matrix(2.566 0 0 3.212 257.75 401.60)" font-family="'Liberation Sans', Arial, sans-serif" font-size="10" font-weight="bold" fill="#dd1100">D</text>
<text transform="matrix(3.066 0 0 0.669 257.42 406.60)" font-family="'Liberation Sans', Arial, sans-serif" font-size="10" font-weight="bold" fill="#000000">L</text>
<text transform="matrix(2.779 0 0 0.378 257.61 409.60)" font-family="'Liberation Sans', Arial, sans-serif" font-size="10" font-weight="bold" fill="#000000">P</text>
<text transform="matrix(2.263 0 0 0.235 258.54 411.64)" font-family="'Liberation Sans', Arial, sans-serif" font-size="10" font-weight="bold" fill="#cc33cc">Q</text>
<text transform="matrix(2.626 0 0 0.367 258.71 415.06)" font-family="'Liberation Sans', Arial, sans-serif" font-size="10" font-weight="bold" fill="#00cc00">S</text>
<text transform="translate(268.53 417.00) rotate(-90)" font-family="'Liberation Sans', Arial, sans-serif" font-size="4.8" fill="#111" text-anchor="end">10</text>
<text transform="matrix(2.566 0 0 2.477 274.08 385.54)" font-family="'Liberation Sans', Arial, sans-serif" font-size="10" font-weight="bold" fill="#dd1100">D</text>
<text transform="matrix(3.066 0 0 1.280 273.75 394.75)" font-family="'Liberation Sans', Arial, sans-serif" font-size="10" font-weight="bold" fill="#000000">L</text>
<text transform="matrix(2.804 0 0 0.576 273.92 399.11)" font-family="'Liberation Sans', Arial, sans-serif" font-size="10" font-weight="bold" fill="#dd1100">E</text>
<text transform="matrix(2.250 0 0 0.646 274.29 403.96)" font-family="'Liberation Sans', Arial, sans-serif" font-size="10" font-weight="bold" fill="#000000">M</text>
<text transform="matrix(2.675 0 0 0.435 274.01 407.35)" font-family="'Liberation Sans', Arial, sans-serif" font-size="10" font-weight="bold" fill="#cc33cc">N</text>
<text transform="matrix(2.439 0 0 0.364 274.17 410.25)" font-family="'Liberation Sans', Arial, sans-serif" font-size="10" font-weight="bold" fill="#0000dd">K</text>
<text transform="matrix(2.263 0 0 0.226 274.87 412.23)" font-family="'Liberation Sans', Arial, sans-serif" font-size="10" font-weight="bold" fill="#cc33cc">Q</text>
<text transform="matrix(2.671 0 0 0.294 275.51 415.10)" font-family="'Liberation Sans', Arial, sans-serif" font-size="10" font-weight="bold" fill="#00cc00">T</text>
<text transform="translate(284.87 417.00) rotate(-90)" font-family="'Liberation Sans', Arial, sans-serif" font-size="4.8" fill="#111" text-anchor="end">11</text>
<text transform="matrix(2.566 0 0 2.055 290.41 382.64)" font-family="'Liberation Sans', Arial, sans-serif" font-size="10" font-weight="bold" fill="#dd1100">D</text>
<text transform="matrix(2.439 0 0 0.998 290.50 389.90)" font-family="'Liberation Sans', Arial, sans-serif" font-size="10" font-weight="bold" fill="#0000dd">K</text>
<text transform="matrix(2.330 0 0 0.559 291.17 394.21)" font-family="'Liberation Sans', Arial, sans-serif" font-size="10" font-weight="bold" fill="#00cc00">G</text>
<text transform="matrix(2.263 0 0 0.443 291.20 397.75)" font-family="'Liberation Sans', Arial, sans-serif" font-size="10" font-weight="bold" fill="#cc33cc">Q</text>
<text transform="matrix(2.481 0 0 0.717 290.47 403.96)" font-family="'Liberation Sans', Arial, sans-serif" font-size="10" font-weight="bold" fill="#0000dd">R</text>
<text transform="matrix(2.804 0 0 0.435 290.25 407.35)" font-family="'Liberation Sans', Arial, sans-serif" font-size="10" font-weight="bold" fill="#dd1100">E</text>
<text transform="matrix(3.066 0 0 0.364 290.08 410.25)" font-family="'Liberation Sans', Arial, sans-serif" font-size="10" font-weight="bold" fill="#000000">L</text>
<text transform="matrix(2.263 0 0 0.226 291.20 412.23)" font-family="'Liberation Sans', Arial, sans-serif" font-size="10" font-weight="bold" fill="#cc33cc">Q</text>
<text transform="matrix(2.626 0 0 0.286 291.37 415.07)" font-family="'Liberation Sans', Arial, sans-serif" font-size="10" font-weight="bold" fill="#00cc00">S</text>
<text transform="translate(301.19 417.00) rotate(-90)" font-family="'Liberation Sans', Arial, sans-serif" font-size="4.8" fill="#111" text-anchor="end">12</text>
<text transform="matrix(3.103 0 0 1.278 306.38 377.30)" font-family="'Liberation Sans', Arial, sans-serif" font-size="10" font-weight="bold" fill="#000000">F</text>
<text transform="matrix(2.566 0 0 0.907 306.74 383.94)" font-family="'Liberation Sans', Arial, sans-serif" font-size="10" font-weight="bold" fill="#dd1100">D</text>
<text transform="matrix(2.409 0 0 1.056 308.29 391.60)" font-family="'Liberation Sans', Arial, sans-serif" font-size="10" font-weight="bold" fill="#000000">V</text>
<text transform="matrix(2.804 0 0 0.684 306.58 396.71)" font-family="'Liberation Sans', Arial, sans-serif" font-size="10" font-weight="bold" fill="#dd1100">E</text>
<text transform="matrix(2.481 0 0 0.833 308.04 402.84)" font-family="'Liberation Sans', Arial, sans-serif" font-size="10" font-weight="bold" fill="#000000">Y</text>
<text transform="matrix(2.344 0 0 0.536 307.87 406.93)" font-family="'Liberation Sans', Arial, sans-serif" font-size="10" font-weight="bold" fill="#000000">A</text>
<text transform="matrix(2.439 0 0 0.387 306.83 409.99)" font-family="'Liberation Sans', Arial, sans-serif" font-size="10" font-weight="bold" fill="#0000dd">K</text>
<text transform="matrix(2.263 0 0 0.241 307.53 412.07)" font-family="'Liberation Sans', Arial, sans-serif" font-size="10" font-weight="bold" fill="#cc33cc">Q</text>
<text transform="matrix(2.626 0 0 0.304 307.70 415.07)" font-family="'Liberation Sans', Arial, sans-serif" font-size="10" font-weight="bold" fill="#00cc00">S</text>
<text transform="translate(317.52 417.00) rotate(-90)" font-family="'Liberation Sans', Arial, sans-serif" font-size="4.8" fill="#111" text-anchor="end">13</text>
</g>
<defs>
<linearGradient id="gr1" x1="0" y1="1" x2="0" y2="0">
<stop offset="0.000" stop-color="#ffffff"/>
<stop offset="0.167" stop-color="#e5f5e0"/>
<stop offset="0.333" stop-color="#aadda2"/>
<stop offset="0.500" stop-color="#74c476"/>
<stop offset="0.667" stop-color="#389648"/>
<stop offset="0.833" stop-color="#12682c"/>
<stop offset="1.000" stop-color="#003c14"/>
</linearGradient>
<linearGradient id="gr2" x1="0" y1="1" x2="0" y2="0">
<stop offset="0.000" stop-color="#ffffff"/>
<stop offset="0.167" stop-color="#e5f5e0"/>
<stop offset="0.333" stop-color="#aadda2"/>
<stop offset="0.500" stop-color="#74c476"/>
<stop offset="0.667" stop-color="#389648"/>
<stop offset="0.833" stop-color="#12682c"/>
<stop offset="1.000" stop-color="#003c14"/>
</linearGradient>
<linearGradient id="qgrad" x1="0" y1="0" x2="1" y2="0"><stop offset="0" stop-color="#ffd02f"/><stop offset="0.3" stop-color="#f5a020"/><stop offset="0.65" stop-color="#de5510"/><stop offset="1" stop-color="#c00008"/></linearGradient>
<radialGradient id="ball" cx="0.38" cy="0.32" r="0.75"><stop offset="0" stop-color="#ff5a5a"/><stop offset="0.45" stop-color="#ee2226"/><stop offset="1" stop-color="#a80d12"/></radialGradient>
</defs>
<g id="panelB">
<text x="395.30" y="26.60" font-family="'Liberation Sans', Arial, sans-serif" font-size="24.5" font-weight="normal" font-style="normal" fill="#000" text-anchor="start" >B</text>
<text x="672.00" y="25.00" font-family="'Liberation Sans', Arial, sans-serif" font-size="9.5" font-weight="bold" font-style="italic" fill="#222" text-anchor="end" >Enriched InterPro domains</text>
<rect x="561.9" y="30.4" width="98.60000000000002" height="167.29999999999998" fill="#fff"/>
<line x1="577.71" y1="30.4" x2="577.71" y2="197.7" stroke="#dedede" stroke-width="0.7"/>
<line x1="600.93" y1="30.4" x2="600.93" y2="197.7" stroke="#dedede" stroke-width="0.7"/>
<line x1="624.14" y1="30.4" x2="624.14" y2="197.7" stroke="#dedede" stroke-width="0.7"/>
<line x1="647.36" y1="30.4" x2="647.36" y2="197.7" stroke="#dedede" stroke-width="0.7"/>
<line x1="566.10" y1="30.4" x2="566.10" y2="197.7" stroke="#c6c6c6" stroke-width="1"/>
<line x1="589.32" y1="30.4" x2="589.32" y2="197.7" stroke="#c6c6c6" stroke-width="1"/>
<line x1="612.53" y1="30.4" x2="612.53" y2="197.7" stroke="#c6c6c6" stroke-width="1"/>
<line x1="635.75" y1="30.4" x2="635.75" y2="197.7" stroke="#c6c6c6" stroke-width="1"/>
<line x1="658.97" y1="30.4" x2="658.97" y2="197.7" stroke="#c6c6c6" stroke-width="1"/>
<line x1="561.9" y1="40.20" x2="660.5" y2="40.20" stroke="#c6c6c6" stroke-width="1"/>
<line x1="561.9" y1="56.68" x2="660.5" y2="56.68" stroke="#c6c6c6" stroke-width="1"/>
<line x1="561.9" y1="73.16" x2="660.5" y2="73.16" stroke="#c6c6c6" stroke-width="1"/>
<line x1="561.9" y1="89.64" x2="660.5" y2="89.64" stroke="#c6c6c6" stroke-width="1"/>
<line x1="561.9" y1="106.12" x2="660.5" y2="106.12" stroke="#c6c6c6" stroke-width="1"/>
<line x1="561.9" y1="122.60" x2="660.5" y2="122.60" stroke="#c6c6c6" stroke-width="1"/>
<line x1="561.9" y1="139.08" x2="660.5" y2="139.08" stroke="#c6c6c6" stroke-width="1"/>
<line x1="561.9" y1="155.56" x2="660.5" y2="155.56" stroke="#c6c6c6" stroke-width="1"/>
<line x1="561.9" y1="172.04" x2="660.5" y2="172.04" stroke="#c6c6c6" stroke-width="1"/>
<line x1="561.9" y1="188.52" x2="660.5" y2="188.52" stroke="#c6c6c6" stroke-width="1"/>
<rect x="566.10" y="33.20" width="90.00" height="14.00" fill="#a7dca0"/>
<text x="611.10" y="43.20" font-family="'Liberation Sans', Arial, sans-serif" font-size="8.4" font-weight="normal" font-style="normal" fill="#1a1a1a" text-anchor="middle" >116.3</text>
<line x1="559.4" y1="40.20" x2="561.9" y2="40.20" stroke="#444" stroke-width="0.8"/>
<rect x="566.10" y="49.68" width="60.05" height="14.00" fill="#b6e2ae"/>
<text x="596.13" y="59.68" font-family="'Liberation Sans', Arial, sans-serif" font-size="8.4" font-weight="normal" font-style="normal" fill="#1a1a1a" text-anchor="middle" >77.6</text>
<line x1="559.4" y1="56.68" x2="561.9" y2="56.68" stroke="#444" stroke-width="0.8"/>
<rect x="566.10" y="66.16" width="40.01" height="14.00" fill="#c2e7bb"/>
<text x="586.11" y="76.16" font-family="'Liberation Sans', Arial, sans-serif" font-size="8.4" font-weight="normal" font-style="normal" fill="#1a1a1a" text-anchor="middle" >51.7</text>
<line x1="559.4" y1="73.16" x2="561.9" y2="73.16" stroke="#444" stroke-width="0.8"/>
<rect x="566.10" y="82.64" width="35.99" height="14.00" fill="#2d8840"/>
<text x="584.09" y="92.64" font-family="'Liberation Sans', Arial, sans-serif" font-size="8.4" font-weight="normal" font-style="normal" fill="#1a1a1a" text-anchor="middle" >46.5</text>
<line x1="559.4" y1="89.64" x2="561.9" y2="89.64" stroke="#444" stroke-width="0.8"/>
<rect x="566.10" y="99.12" width="14.63" height="14.00" fill="#9fd899"/>
<text x="573.41" y="109.12" font-family="'Liberation Sans', Arial, sans-serif" font-size="8.4" font-weight="normal" font-style="normal" fill="#1a1a1a" text-anchor="middle" >18.9</text>
<line x1="559.4" y1="106.12" x2="561.9" y2="106.12" stroke="#444" stroke-width="0.8"/>
<rect x="566.10" y="115.60" width="14.24" height="14.00" fill="#9fd899"/>
<text x="573.22" y="125.60" font-family="'Liberation Sans', Arial, sans-serif" font-size="8.4" font-weight="normal" font-style="normal" fill="#1a1a1a" text-anchor="middle" >18.4</text>
<line x1="559.4" y1="122.60" x2="561.9" y2="122.60" stroke="#444" stroke-width="0.8"/>
<rect x="566.10" y="132.08" width="10.22" height="14.00" fill="#aadda2"/>
<text x="571.21" y="142.08" font-family="'Liberation Sans', Arial, sans-serif" font-size="8.4" font-weight="normal" font-style="normal" fill="#1a1a1a" text-anchor="middle" >13.2</text>
<line x1="559.4" y1="139.08" x2="561.9" y2="139.08" stroke="#444" stroke-width="0.8"/>
<rect x="566.10" y="148.56" width="7.58" height="14.00" fill="#b6e2ae"/>
<text x="569.89" y="158.56" font-family="'Liberation Sans', Arial, sans-serif" font-size="8.4" font-weight="normal" font-style="normal" fill="#1a1a1a" text-anchor="middle" >9.8</text>
<line x1="559.4" y1="155.56" x2="561.9" y2="155.56" stroke="#444" stroke-width="0.8"/>
<rect x="566.10" y="165.04" width="3.56" height="14.00" fill="#bce4b5"/>
<text x="567.88" y="175.04" font-family="'Liberation Sans', Arial, sans-serif" font-size="8.4" font-weight="normal" font-style="normal" fill="#1a1a1a" text-anchor="middle" >4.6</text>
<line x1="559.4" y1="172.04" x2="561.9" y2="172.04" stroke="#444" stroke-width="0.8"/>
<rect x="566.10" y="181.52" width="3.17" height="14.00" fill="#bce4b5"/>
<text x="567.69" y="191.52" font-family="'Liberation Sans', Arial, sans-serif" font-size="8.4" font-weight="normal" font-style="normal" fill="#1a1a1a" text-anchor="middle" >4.1</text>
<line x1="559.4" y1="188.52" x2="561.9" y2="188.52" stroke="#444" stroke-width="0.8"/>
<rect x="561.9" y="30.4" width="98.60000000000002" height="167.29999999999998" fill="none" stroke="#444" stroke-width="1.1"/>
<line x1="566.10" y1="197.7" x2="566.10" y2="199.89999999999998" stroke="#444" stroke-width="0.8"/>
<text x="566.10" y="205.90" font-family="'Liberation Sans', Arial, sans-serif" font-size="5.6" font-weight="normal" font-style="normal" fill="#555" text-anchor="middle" >0</text>
<line x1="589.32" y1="197.7" x2="589.32" y2="199.89999999999998" stroke="#444" stroke-width="0.8"/>
<text x="589.32" y="205.90" font-family="'Liberation Sans', Arial, sans-serif" font-size="5.6" font-weight="normal" font-style="normal" fill="#555" text-anchor="middle" >30</text>
<line x1="612.53" y1="197.7" x2="612.53" y2="199.89999999999998" stroke="#444" stroke-width="0.8"/>
<text x="612.53" y="205.90" font-family="'Liberation Sans', Arial, sans-serif" font-size="5.6" font-weight="normal" font-style="normal" fill="#555" text-anchor="middle" >60</text>
<line x1="635.75" y1="197.7" x2="635.75" y2="199.89999999999998" stroke="#444" stroke-width="0.8"/>
<text x="635.75" y="205.90" font-family="'Liberation Sans', Arial, sans-serif" font-size="5.6" font-weight="normal" font-style="normal" fill="#555" text-anchor="middle" >90</text>
<line x1="658.97" y1="197.7" x2="658.97" y2="199.89999999999998" stroke="#444" stroke-width="0.8"/>
<text x="658.97" y="205.90" font-family="'Liberation Sans', Arial, sans-serif" font-size="5.6" font-weight="normal" font-style="normal" fill="#555" text-anchor="middle" >120</text>
<text x="611.20" y="216.20" font-family="'Liberation Sans', Arial, sans-serif" font-size="9.45" font-weight="bold" font-style="normal" fill="#333" text-anchor="middle" >Fold Enrichment</text>
<rect x="611.3" y="120.0" width="46" height="62" fill="#fff"/>
<text x="613.80" y="126.70" font-family="'Liberation Sans', Arial, sans-serif" font-size="6.1" font-weight="normal" font-style="normal" fill="#222" text-anchor="start" >-log10(PValue)</text>
<rect x="614.3" y="130.0" width="8.7" height="48" fill="url(#gr1)"/>
<text x="625.60" y="178.90" font-family="'Liberation Sans', Arial, sans-serif" font-size="5.0" font-weight="normal" font-style="normal" fill="#333" text-anchor="start" >0</text>
<text x="625.60" y="171.14" font-family="'Liberation Sans', Arial, sans-serif" font-size="5.0" font-weight="normal" font-style="normal" fill="#333" text-anchor="start" >1</text>
<text x="625.60" y="163.38" font-family="'Liberation Sans', Arial, sans-serif" font-size="5.0" font-weight="normal" font-style="normal" fill="#333" text-anchor="start" >2</text>
<text x="625.60" y="155.62" font-family="'Liberation Sans', Arial, sans-serif" font-size="5.0" font-weight="normal" font-style="normal" fill="#333" text-anchor="start" >3</text>
<text x="625.60" y="147.86" font-family="'Liberation Sans', Arial, sans-serif" font-size="5.0" font-weight="normal" font-style="normal" fill="#333" text-anchor="start" >4</text>
<text x="625.60" y="140.10" font-family="'Liberation Sans', Arial, sans-serif" font-size="5.0" font-weight="normal" font-style="normal" fill="#333" text-anchor="start" >5</text>
<text x="625.60" y="132.34" font-family="'Liberation Sans', Arial, sans-serif" font-size="5.0" font-weight="normal" font-style="normal" fill="#333" text-anchor="start" >6</text>
<text x="557.60" y="43.60" font-family="'Liberation Sans', Arial, sans-serif" font-size="9.5" font-weight="bold" font-style="normal" fill="#3a3a3a" text-anchor="end" >Remorin, N-terminal</text>
<text x="557.60" y="60.08" font-family="'Liberation Sans', Arial, sans-serif" font-size="9.5" font-weight="bold" font-style="normal" fill="#3a3a3a" text-anchor="end" >Alpha tubulin</text>
<text x="557.60" y="76.56" font-family="'Liberation Sans', Arial, sans-serif" font-size="9.5" font-weight="bold" font-style="normal" fill="#3a3a3a" text-anchor="end" >Dehydrin</text>
<text x="557.60" y="93.04" font-family="'Liberation Sans', Arial, sans-serif" font-size="9.5" font-weight="bold" font-style="normal" fill="#3a3a3a" text-anchor="end" >Chlorophyll A-B binding protein, plant</text>
<text x="557.60" y="109.52" font-family="'Liberation Sans', Arial, sans-serif" font-size="9.5" font-weight="bold" font-style="normal" fill="#3a3a3a" text-anchor="end" >Major intrinsic protein</text>
<text x="557.60" y="126.00" font-family="'Liberation Sans', Arial, sans-serif" font-size="9.5" font-weight="bold" font-style="normal" fill="#3a3a3a" text-anchor="end" >Aquaporin-like</text>
<text x="557.60" y="142.48" font-family="'Liberation Sans', Arial, sans-serif" font-size="9.5" font-weight="bold" font-style="normal" fill="#3a3a3a" text-anchor="end" >Zinc finger, CCHC-type</text>
<text x="557.60" y="158.96" font-family="'Liberation Sans', Arial, sans-serif" font-size="9.5" font-weight="bold" font-style="normal" fill="#3a3a3a" text-anchor="end" >IQ motif, EF-hand binding site</text>
<text x="557.60" y="175.44" font-family="'Liberation Sans', Arial, sans-serif" font-size="9.5" font-weight="bold" font-style="normal" fill="#3a3a3a" text-anchor="end" >RNA recognition motif domain</text>
<text x="557.60" y="191.92" font-family="'Liberation Sans', Arial, sans-serif" font-size="9.5" font-weight="bold" font-style="normal" fill="#3a3a3a" text-anchor="end" >Nucleotide-binding, alpha-beta plait</text>
<rect x="561.9" y="227.4" width="98.80000000000007" height="172.1" fill="#fff"/>
<line x1="582.65" y1="227.4" x2="582.65" y2="399.5" stroke="#dedede" stroke-width="0.7"/>
<line x1="615.75" y1="227.4" x2="615.75" y2="399.5" stroke="#dedede" stroke-width="0.7"/>
<line x1="648.85" y1="227.4" x2="648.85" y2="399.5" stroke="#dedede" stroke-width="0.7"/>
<line x1="566.10" y1="227.4" x2="566.10" y2="399.5" stroke="#c6c6c6" stroke-width="1"/>
<line x1="599.20" y1="227.4" x2="599.20" y2="399.5" stroke="#c6c6c6" stroke-width="1"/>
<line x1="632.30" y1="227.4" x2="632.30" y2="399.5" stroke="#c6c6c6" stroke-width="1"/>
<line x1="561.9" y1="243.85" x2="660.7" y2="243.85" stroke="#c6c6c6" stroke-width="1"/>
<line x1="561.9" y1="271.79" x2="660.7" y2="271.79" stroke="#c6c6c6" stroke-width="1"/>
<line x1="561.9" y1="299.73" x2="660.7" y2="299.73" stroke="#c6c6c6" stroke-width="1"/>
<line x1="561.9" y1="327.67" x2="660.7" y2="327.67" stroke="#c6c6c6" stroke-width="1"/>
<line x1="561.9" y1="355.61" x2="660.7" y2="355.61" stroke="#c6c6c6" stroke-width="1"/>
<line x1="561.9" y1="383.55" x2="660.7" y2="383.55" stroke="#c6c6c6" stroke-width="1"/>
<rect x="566.10" y="231.50" width="90.03" height="24.70" fill="#79c67a"/>
<text x="611.12" y="246.85" font-family="'Liberation Sans', Arial, sans-serif" font-size="8.4" font-weight="normal" font-style="normal" fill="#1a1a1a" text-anchor="middle" >13.6</text>
<line x1="559.4" y1="243.85" x2="561.9" y2="243.85" stroke="#444" stroke-width="0.8"/>
<rect x="566.10" y="259.44" width="48.33" height="24.70" fill="#8ace88"/>
<text x="590.26" y="274.79" font-family="'Liberation Sans', Arial, sans-serif" font-size="8.4" font-weight="normal" font-style="normal" fill="#1a1a1a" text-anchor="middle" >7.3</text>
<line x1="559.4" y1="271.79" x2="561.9" y2="271.79" stroke="#444" stroke-width="0.8"/>
<rect x="566.10" y="287.38" width="37.07" height="24.70" fill="#9fd899"/>
<text x="584.64" y="302.73" font-family="'Liberation Sans', Arial, sans-serif" font-size="8.4" font-weight="normal" font-style="normal" fill="#1a1a1a" text-anchor="middle" >5.6</text>
<line x1="559.4" y1="299.73" x2="561.9" y2="299.73" stroke="#444" stroke-width="0.8"/>
<rect x="566.10" y="315.32" width="26.48" height="24.70" fill="#79c67a"/>
<text x="579.34" y="330.67" font-family="'Liberation Sans', Arial, sans-serif" font-size="8.4" font-weight="normal" font-style="normal" fill="#1a1a1a" text-anchor="middle" >4</text>
<line x1="559.4" y1="327.67" x2="561.9" y2="327.67" stroke="#444" stroke-width="0.8"/>
<rect x="566.10" y="343.26" width="25.16" height="24.70" fill="#94d390"/>
<text x="578.68" y="358.61" font-family="'Liberation Sans', Arial, sans-serif" font-size="8.4" font-weight="normal" font-style="normal" fill="#1a1a1a" text-anchor="middle" >3.8</text>
<line x1="559.4" y1="355.61" x2="561.9" y2="355.61" stroke="#444" stroke-width="0.8"/>
<rect x="566.10" y="371.20" width="23.83" height="24.70" fill="#94d390"/>
<text x="578.02" y="386.55" font-family="'Liberation Sans', Arial, sans-serif" font-size="8.4" font-weight="normal" font-style="normal" fill="#1a1a1a" text-anchor="middle" >3.6</text>
<line x1="559.4" y1="383.55" x2="561.9" y2="383.55" stroke="#444" stroke-width="0.8"/>
<rect x="561.9" y="227.4" width="98.80000000000007" height="172.1" fill="none" stroke="#444" stroke-width="1.1"/>
<line x1="566.10" y1="399.5" x2="566.10" y2="401.7" stroke="#444" stroke-width="0.8"/>
<text x="566.10" y="408.40" font-family="'Liberation Sans', Arial, sans-serif" font-size="5.6" font-weight="normal" font-style="normal" fill="#555" text-anchor="middle" >0</text>
<line x1="599.20" y1="399.5" x2="599.20" y2="401.7" stroke="#444" stroke-width="0.8"/>
<text x="599.20" y="408.40" font-family="'Liberation Sans', Arial, sans-serif" font-size="5.6" font-weight="normal" font-style="normal" fill="#555" text-anchor="middle" >5</text>
<line x1="632.30" y1="399.5" x2="632.30" y2="401.7" stroke="#444" stroke-width="0.8"/>
<text x="632.30" y="408.40" font-family="'Liberation Sans', Arial, sans-serif" font-size="5.6" font-weight="normal" font-style="normal" fill="#555" text-anchor="middle" >10</text>
<text x="611.30" y="421.00" font-family="'Liberation Sans', Arial, sans-serif" font-size="10.6" font-weight="bold" font-style="normal" fill="#333" text-anchor="middle" >Fold Enrichment</text>
<rect x="612.5" y="319.0" width="46" height="62" fill="#fff"/>
<text x="615.00" y="325.70" font-family="'Liberation Sans', Arial, sans-serif" font-size="6.1" font-weight="normal" font-style="normal" fill="#222" text-anchor="start" >-log10(PValue)</text>
<rect x="615.5" y="329.0" width="8.7" height="48" fill="url(#gr2)"/>
<text x="626.80" y="377.90" font-family="'Liberation Sans', Arial, sans-serif" font-size="5.0" font-weight="normal" font-style="normal" fill="#333" text-anchor="start" >0</text>
<text x="626.80" y="370.14" font-family="'Liberation Sans', Arial, sans-serif" font-size="5.0" font-weight="normal" font-style="normal" fill="#333" text-anchor="start" >1</text>
<text x="626.80" y="362.38" font-family="'Liberation Sans', Arial, sans-serif" font-size="5.0" font-weight="normal" font-style="normal" fill="#333" text-anchor="start" >2</text>
<text x="626.80" y="354.62" font-family="'Liberation Sans', Arial, sans-serif" font-size="5.0" font-weight="normal" font-style="normal" fill="#333" text-anchor="start" >3</text>
<text x="626.80" y="346.86" font-family="'Liberation Sans', Arial, sans-serif" font-size="5.0" font-weight="normal" font-style="normal" fill="#333" text-anchor="start" >4</text>
<text x="626.80" y="339.10" font-family="'Liberation Sans', Arial, sans-serif" font-size="5.0" font-weight="normal" font-style="normal" fill="#333" text-anchor="start" >5</text>
<text x="626.80" y="331.34" font-family="'Liberation Sans', Arial, sans-serif" font-size="5.0" font-weight="normal" font-style="normal" fill="#333" text-anchor="start" >6</text>
<text x="558.00" y="247.60" font-family="'Liberation Sans', Arial, sans-serif" font-size="10.45" font-weight="bold" font-style="normal" fill="#3a3a3a" text-anchor="end" >NB-ARC</text>
<text x="558.00" y="264.90" font-family="'Liberation Sans', Arial, sans-serif" font-size="10.45" font-weight="bold" font-style="normal" fill="#3a3a3a" text-anchor="end" >Serine-threonine/tyrosine-</text>
<text x="558.00" y="276.20" font-family="'Liberation Sans', Arial, sans-serif" font-size="10.45" font-weight="bold" font-style="normal" fill="#3a3a3a" text-anchor="end" >protein kinase catalytic</text>
<text x="558.00" y="287.50" font-family="'Liberation Sans', Arial, sans-serif" font-size="10.45" font-weight="bold" font-style="normal" fill="#3a3a3a" text-anchor="end" >domain</text>
<text x="558.00" y="298.35" font-family="'Liberation Sans', Arial, sans-serif" font-size="10.45" font-weight="bold" font-style="normal" fill="#3a3a3a" text-anchor="end" >Concanavalin A-like lectin/</text>
<text x="558.00" y="309.65" font-family="'Liberation Sans', Arial, sans-serif" font-size="10.45" font-weight="bold" font-style="normal" fill="#3a3a3a" text-anchor="end" >glucanase</text>
<text x="558.00" y="325.85" font-family="'Liberation Sans', Arial, sans-serif" font-size="10.45" font-weight="bold" font-style="normal" fill="#3a3a3a" text-anchor="end" >P-loop containing nucleoside</text>
<text x="558.00" y="337.15" font-family="'Liberation Sans', Arial, sans-serif" font-size="10.45" font-weight="bold" font-style="normal" fill="#3a3a3a" text-anchor="end" >triphosphate hydrolase</text>
<text x="558.00" y="354.35" font-family="'Liberation Sans', Arial, sans-serif" font-size="10.45" font-weight="bold" font-style="normal" fill="#3a3a3a" text-anchor="end" >Protein kinase, catalytic</text>
<text x="558.00" y="365.65" font-family="'Liberation Sans', Arial, sans-serif" font-size="10.45" font-weight="bold" font-style="normal" fill="#3a3a3a" text-anchor="end" >domain</text>
<text x="558.00" y="387.50" font-family="'Liberation Sans', Arial, sans-serif" font-size="10.45" font-weight="bold" font-style="normal" fill="#3a3a3a" text-anchor="end" >Protein kinase-like domain</text>
<text transform="translate(683.2 8.45) rotate(90)" font-family="'Liberation Sans', Arial, sans-serif" font-size="13.9" font-weight="bold" fill="#b40a0a">Drought-tolerant Up-regulated</text>
<text transform="translate(683.2 218.1) rotate(90)" font-family="'Liberation Sans', Arial, sans-serif" font-size="13.9" font-weight="bold" fill="#1168c0">Drought-tolerant Down-regulated</text>
</g>
<g id="panelC">
<text x="50.40" y="467.00" font-family="'Liberation Sans', Arial, sans-serif" font-size="23.5" font-weight="normal" font-style="normal" fill="#000" text-anchor="start" >C</text>
<rect x="241.1" y="467.4" width="102" height="206.70000000000005" fill="#fff" stroke="#8a8a8a" stroke-width="0.9"/>
<rect x="343.1" y="466.95" width="18.1" height="207.60000000000005" fill="#6c7686"/>
<text transform="translate(348.9 570.75) rotate(90)" font-family="'Liberation Serif', 'Times New Roman', serif" font-size="11.3" font-weight="bold" fill="#fff" text-anchor="middle">Biological Process</text>
<circle cx="305.0" cy="475.6" r="2.50" fill="#e8901c"/>
<text x="236.20" y="480.30" font-family="'Liberation Serif', 'Times New Roman', serif" font-size="12.85" font-weight="bold" font-style="normal" fill="#4a4a4a" text-anchor="end" >water transport</text>
<circle cx="301.7" cy="489.3" r="2.25" fill="#f8c830"/>
<text x="236.20" y="494.00" font-family="'Liberation Serif', 'Times New Roman', serif" font-size="12.85" font-weight="bold" font-style="normal" fill="#4a4a4a" text-anchor="end" >methionine metabolic process</text>
<circle cx="287.1" cy="502.9" r="2.75" fill="#f09820"/>
<text x="236.20" y="507.60" font-family="'Liberation Serif', 'Times New Roman', serif" font-size="12.85" font-weight="bold" font-style="normal" fill="#4a4a4a" text-anchor="end" >photosynthesis, light reaction</text>
<circle cx="280.4" cy="516.6" r="3.50" fill="#e07018"/>
<text x="236.20" y="521.30" font-family="'Liberation Serif', 'Times New Roman', serif" font-size="12.85" font-weight="bold" font-style="normal" fill="#4a4a4a" text-anchor="end" >response to water deprivation</text>
<circle cx="278.6" cy="530.2" r="3.25" fill="#ec9020"/>
<text x="236.20" y="534.90" font-family="'Liberation Serif', 'Times New Roman', serif" font-size="12.85" font-weight="bold" font-style="normal" fill="#4a4a4a" text-anchor="end" >response to cadmium ion</text>
<circle cx="276.4" cy="543.7" r="3.50" fill="#e47818"/>
<text x="236.20" y="548.40" font-family="'Liberation Serif', 'Times New Roman', serif" font-size="12.85" font-weight="bold" font-style="normal" fill="#4a4a4a" text-anchor="end" >response to abscisic acid</text>
<circle cx="274.4" cy="557.3" r="4.25" fill="#d84810"/>
<text x="236.20" y="562.00" font-family="'Liberation Serif', 'Times New Roman', serif" font-size="12.85" font-weight="bold" font-style="normal" fill="#4a4a4a" text-anchor="end" >response to inorganic substance</text>
<circle cx="270.4" cy="571.0" r="3.25" fill="#fcc828"/>
<text x="236.20" y="575.70" font-family="'Liberation Serif', 'Times New Roman', serif" font-size="12.85" font-weight="bold" font-style="normal" fill="#4a4a4a" text-anchor="end" >response to osmotic stress</text>
<circle cx="267.7" cy="584.7" r="4.25" fill="#e06818"/>
<text x="236.20" y="589.40" font-family="'Liberation Serif', 'Times New Roman', serif" font-size="12.85" font-weight="bold" font-style="normal" fill="#4a4a4a" text-anchor="end" >response to oxygen-containing compound </text>
<circle cx="266.7" cy="598.3" r="4.00" fill="#ec9020"/>
<text x="236.20" y="603.00" font-family="'Liberation Serif', 'Times New Roman', serif" font-size="12.85" font-weight="bold" font-style="normal" fill="#4a4a4a" text-anchor="end" >response to hormone</text>
<circle cx="266.5" cy="612.0" r="4.00" fill="#ec9020"/>
<text x="236.20" y="616.70" font-family="'Liberation Serif', 'Times New Roman', serif" font-size="12.85" font-weight="bold" font-style="normal" fill="#4a4a4a" text-anchor="end" >response to endogenous stimulus</text>
<circle cx="265.2" cy="625.7" r="5.25" fill="#d84810"/>
<text x="236.20" y="630.40" font-family="'Liberation Serif', 'Times New Roman', serif" font-size="12.85" font-weight="bold" font-style="normal" fill="#4a4a4a" text-anchor="end" >response to chemical</text>
<circle cx="263.2" cy="639.3" r="4.25" fill="#f0a020"/>
<text x="236.20" y="644.00" font-family="'Liberation Serif', 'Times New Roman', serif" font-size="12.85" font-weight="bold" font-style="normal" fill="#4a4a4a" text-anchor="end" >response to organic substance</text>
<circle cx="262.5" cy="653.0" r="4.50" fill="#ec9020"/>
<text x="236.20" y="657.70" font-family="'Liberation Serif', 'Times New Roman', serif" font-size="12.85" font-weight="bold" font-style="normal" fill="#4a4a4a" text-anchor="end" >response to abiotic stimulus</text>
<circle cx="259.8" cy="666.1" r="5.00" fill="#f0a020"/>
<text x="236.20" y="670.80" font-family="'Liberation Serif', 'Times New Roman', serif" font-size="12.85" font-weight="bold" font-style="normal" fill="#4a4a4a" text-anchor="end" >response to stress </text>
<rect x="241.1" y="679.4" width="102" height="165.80000000000007" fill="#fff" stroke="#8a8a8a" stroke-width="0.9"/>
<rect x="343.1" y="678.9499999999999" width="18.1" height="166.70000000000007" fill="#6c7686"/>
<text transform="translate(348.9 762.30) rotate(90)" font-family="'Liberation Serif', 'Times New Roman', serif" font-size="11.3" font-weight="bold" fill="#fff" text-anchor="middle">Cellular Component</text>
<circle cx="317.1" cy="687.6" r="1.50" fill="#f8b828"/>
<text x="236.20" y="692.30" font-family="'Liberation Serif', 'Times New Roman', serif" font-size="12.85" font-weight="bold" font-style="normal" fill="#4a4a4a" text-anchor="end" >light-harvesting complex</text>
<circle cx="311.2" cy="701.3" r="1.75" fill="#f8c028"/>
<text x="236.20" y="706.00" font-family="'Liberation Serif', 'Times New Roman', serif" font-size="12.85" font-weight="bold" font-style="normal" fill="#4a4a4a" text-anchor="end" >tubulin complex</text>
<circle cx="298.3" cy="714.7" r="2.50" fill="#ec8c20"/>
<text x="236.20" y="719.40" font-family="'Liberation Serif', 'Times New Roman', serif" font-size="12.85" font-weight="bold" font-style="normal" fill="#4a4a4a" text-anchor="end" >photosystem II</text>
<circle cx="273.9" cy="728.4" r="3.25" fill="#f09820"/>
<text x="236.20" y="733.10" font-family="'Liberation Serif', 'Times New Roman', serif" font-size="12.85" font-weight="bold" font-style="normal" fill="#4a4a4a" text-anchor="end" >thylakoid membrane</text>
<circle cx="273.2" cy="742.0" r="3.25" fill="#ec9020"/>
<text x="236.20" y="746.70" font-family="'Liberation Serif', 'Times New Roman', serif" font-size="12.85" font-weight="bold" font-style="normal" fill="#4a4a4a" text-anchor="end" >chloroplast thylakoid</text>
<circle cx="270.9" cy="755.7" r="3.75" fill="#e88018"/>
<text x="236.20" y="760.40" font-family="'Liberation Serif', 'Times New Roman', serif" font-size="12.85" font-weight="bold" font-style="normal" fill="#4a4a4a" text-anchor="end" >chloroplast stroma</text>
<circle cx="268.7" cy="769.4" r="3.75" fill="#e88820"/>
<text x="236.20" y="774.10" font-family="'Liberation Serif', 'Times New Roman', serif" font-size="12.85" font-weight="bold" font-style="normal" fill="#4a4a4a" text-anchor="end" >plasmodesma</text>
<circle cx="267.5" cy="783.0" r="3.25" fill="#f8b828"/>
<text x="236.20" y="787.70" font-family="'Liberation Serif', 'Times New Roman', serif" font-size="12.85" font-weight="bold" font-style="normal" fill="#4a4a4a" text-anchor="end" >chloroplast envelope</text>
<circle cx="265.7" cy="796.7" r="3.50" fill="#f4a824"/>
<text x="236.20" y="801.40" font-family="'Liberation Serif', 'Times New Roman', serif" font-size="12.85" font-weight="bold" font-style="normal" fill="#4a4a4a" text-anchor="end" >whole membrane</text>
<circle cx="264.2" cy="810.4" r="3.50" fill="#f8b828"/>
<text x="236.20" y="815.10" font-family="'Liberation Serif', 'Times New Roman', serif" font-size="12.85" font-weight="bold" font-style="normal" fill="#4a4a4a" text-anchor="end" >bounding membrane of organelle</text>
<circle cx="256.5" cy="823.8" r="4.75" fill="#f8b828"/>
<text x="236.20" y="828.50" font-family="'Liberation Serif', 'Times New Roman', serif" font-size="12.85" font-weight="bold" font-style="normal" fill="#4a4a4a" text-anchor="end" >plasma membrane </text>
<circle cx="251.6" cy="837.2" r="6.25" fill="#f8b828"/>
<text x="236.20" y="841.90" font-family="'Liberation Serif', 'Times New Roman', serif" font-size="12.85" font-weight="bold" font-style="normal" fill="#4a4a4a" text-anchor="end" >nucleus</text>
<rect x="241.1" y="850.9" width="102" height="29.300000000000068" fill="#fff" stroke="#8a8a8a" stroke-width="0.9"/>
<rect x="343.1" y="850.4499999999999" width="18.1" height="30.200000000000067" fill="#6c7686"/>
<text transform="translate(348.9 865.55) rotate(90)" font-family="'Liberation Serif', 'Times New Roman', serif" font-size="11.3" font-weight="bold" fill="#fff" text-anchor="middle">MF</text>
<circle cx="309.2" cy="858.8" r="2.75" fill="#e06818"/>
<text x="236.20" y="863.50" font-family="'Liberation Serif', 'Times New Roman', serif" font-size="12.85" font-weight="bold" font-style="normal" fill="#4a4a4a" text-anchor="end" >chlorophyll binding</text>
<circle cx="271.9" cy="872.5" r="4.25" fill="#d85010"/>
<text x="236.20" y="877.20" font-family="'Liberation Serif', 'Times New Roman', serif" font-size="12.85" font-weight="bold" font-style="normal" fill="#4a4a4a" text-anchor="end" >RNA binding</text>
<line x1="244.8" y1="880.2" x2="244.8" y2="882.4" stroke="#666" stroke-width="0.8"/>
<text x="244.80" y="892.50" font-family="'Liberation Serif', 'Times New Roman', serif" font-size="10.9" font-weight="bold" font-style="normal" fill="#262626" text-anchor="middle" >1</text>
<line x1="292.0" y1="880.2" x2="292.0" y2="882.4" stroke="#666" stroke-width="0.8"/>
<text x="292.00" y="892.50" font-family="'Liberation Serif', 'Times New Roman', serif" font-size="10.9" font-weight="bold" font-style="normal" fill="#262626" text-anchor="middle" >16</text>
<line x1="338.8" y1="880.2" x2="338.8" y2="882.4" stroke="#666" stroke-width="0.8"/>
<text x="338.80" y="892.50" font-family="'Liberation Serif', 'Times New Roman', serif" font-size="10.9" font-weight="bold" font-style="normal" fill="#262626" text-anchor="middle" >256</text>
<text x="292.00" y="907.20" font-family="'Liberation Serif', 'Times New Roman', serif" font-size="13.6" font-weight="bold" font-style="normal" fill="#222" text-anchor="middle" >Fold Enrichment</text>
<text x="54.40" y="948.90" font-family="'Liberation Serif', 'Times New Roman', serif" font-size="10.1" font-weight="bold" font-style="normal" fill="#222" text-anchor="start" >Gene Number</text>
<circle cx="126.3" cy="938.4" r="2.55" fill="#000"/>
<circle cx="126.3" cy="951.4" r="3.4" fill="#000"/>
<text x="138.70" y="942.30" font-family="'Liberation Serif', 'Times New Roman', serif" font-size="12.0" font-weight="normal" font-style="normal" fill="#222" text-anchor="start" >10</text>
<text x="138.70" y="955.80" font-family="'Liberation Serif', 'Times New Roman', serif" font-size="12.0" font-weight="normal" font-style="normal" fill="#222" text-anchor="start" >20</text>
<circle cx="161.9" cy="938.4" r="4.0" fill="#000"/>
<circle cx="161.9" cy="951.4" r="4.55" fill="#000"/>
<text x="173.60" y="942.30" font-family="'Liberation Serif', 'Times New Roman', serif" font-size="12.0" font-weight="normal" font-style="normal" fill="#222" text-anchor="start" >30</text>
<text x="173.60" y="955.80" font-family="'Liberation Serif', 'Times New Roman', serif" font-size="12.0" font-weight="normal" font-style="normal" fill="#222" text-anchor="start" >40</text>
<circle cx="197.5" cy="938.4" r="5.15" fill="#000"/>
<circle cx="197.5" cy="951.4" r="5.7" fill="#000"/>
<text x="209.80" y="942.30" font-family="'Liberation Serif', 'Times New Roman', serif" font-size="12.0" font-weight="normal" font-style="normal" fill="#222" text-anchor="start" >50</text>
<text x="209.80" y="955.80" font-family="'Liberation Serif', 'Times New Roman', serif" font-size="12.0" font-weight="normal" font-style="normal" fill="#222" text-anchor="start" >60</text>
<text x="238.30" y="950.00" font-family="'Liberation Serif', 'Times New Roman', serif" font-size="9.6" font-weight="bold" font-style="normal" fill="#222" text-anchor="start" >q value</text>
<rect x="274.2" y="932" width="66.1" height="12.7" fill="url(#qgrad)"/>
<text x="273.80" y="955.80" font-family="'Liberation Sans', Arial, sans-serif" font-size="7.9" font-weight="normal" font-style="normal" fill="#333" text-anchor="start" >0.05 0.01 0.001</text>
</g>
<g id="panelD">
<text x="394.80" y="466.80" font-family="'Liberation Sans', Arial, sans-serif" font-size="24" font-weight="normal" font-style="normal" fill="#000" text-anchor="start" >D</text>
<g fill="none" stroke="#5c5c5c" stroke-width="1.12" stroke-linecap="round" stroke-linejoin="round">
<path d="M559.9 529.8C559.8 528.8 558.9 525.7 558.9 523.8C558.9 522.0 559.3 520.0 559.9 518.9C560.6 517.7 561.8 516.9 562.9 516.9C564.1 516.9 565.8 517.7 566.9 518.9C568.1 520.0 569.1 522.2 569.9 523.8C570.7 525.5 571.1 528.3 571.9 528.8C572.7 529.3 573.7 527.8 574.9 526.8C576.1 525.8 577.6 524.0 578.9 522.9C580.2 521.7 581.6 520.5 582.9 519.9C584.2 519.2 586.2 519.0 586.9 518.9"/>
<path d="M578.9 521.9C578.4 520.7 576.2 516.9 575.9 514.9C575.6 512.9 576.1 510.9 576.9 509.9C577.7 508.9 579.6 508.4 580.9 508.9C582.2 509.4 583.9 511.6 584.9 512.9C585.9 514.2 586.5 516.2 586.9 516.9"/>
<path d="M587.9 516.9C587.6 515.7 586.6 512.2 586.3 509.9C585.9 507.6 585.4 504.6 585.9 502.9C586.3 501.2 587.5 500.2 588.9 499.5C590.2 498.9 592.0 498.9 593.8 498.9C595.7 499.0 598.2 499.8 599.8 499.9C601.5 500.0 602.5 500.2 603.8 499.5C605.2 498.9 606.6 497.1 607.8 495.9C609.0 494.7 609.6 493.2 610.8 492.3C612.0 491.5 613.3 491.2 614.8 490.9C616.3 490.7 617.4 490.8 619.8 490.7C622.1 490.7 626.9 490.4 628.8 490.7C630.6 491.1 630.2 491.7 630.7 492.9C631.2 494.1 631.6 497.1 631.7 497.9"/>
<path d="M599.8 499.9C599.5 500.7 598.3 503.1 597.8 504.9C597.3 506.7 596.8 509.2 596.8 510.9C596.8 512.5 597.7 514.2 597.8 514.9"/>
<path d="M603.8 499.9C603.4 500.9 601.9 503.9 601.4 505.9C600.9 507.9 600.6 510.2 600.8 511.9C601.1 513.5 602.5 515.2 602.8 515.9"/>
<path d="M605.8 521.9C606.3 522.2 607.8 523.8 608.8 523.8C609.8 523.8 610.8 522.9 611.8 521.9C612.8 520.9 613.8 519.0 614.8 517.9C615.8 516.7 617.0 515.7 617.8 514.9C618.6 514.0 618.9 513.5 619.8 512.9C620.6 512.2 622.3 511.2 622.8 510.9"/>
<path d="M605.8 512.9C606.5 512.2 608.5 509.9 609.8 508.9C611.1 507.9 612.6 507.1 613.8 506.9C615.0 506.7 616.1 507.1 616.8 507.9C617.4 508.7 617.4 510.2 617.8 511.9C618.1 513.5 618.4 516.0 618.8 517.9C619.1 519.7 619.1 521.5 619.8 522.9C620.4 524.2 622.1 524.7 622.8 525.8C623.4 527.0 623.9 528.7 623.8 529.8C623.6 531.0 622.1 532.3 621.8 532.8"/>
<path d="M603.8 527.8C603.2 528.8 601.2 532.2 599.8 533.8C598.5 535.5 597.0 537.0 595.8 537.8C594.7 538.6 593.8 538.1 592.9 538.8C591.9 539.5 590.5 540.6 589.9 541.8C589.2 543.0 588.7 544.6 588.9 545.8C589.0 547.0 590.0 548.9 590.9 548.8C591.7 548.6 592.9 546.1 593.8 544.8C594.8 543.5 595.7 541.8 596.8 540.8C598.0 539.8 599.8 539.6 600.8 538.8C601.8 538.0 602.7 537.3 602.8 535.8C603.0 534.3 602.0 530.8 601.8 529.8"/>
<path d="M607.8 529.8C608.0 530.7 608.1 533.3 608.8 534.8C609.5 536.3 610.6 537.8 611.8 538.8C613.0 539.8 614.6 540.8 615.8 540.8C617.0 540.8 618.6 539.8 618.8 538.8C618.9 537.8 616.8 535.8 616.8 534.8C616.8 533.8 617.6 533.2 618.8 532.8C619.9 532.5 622.1 532.5 623.8 532.8C625.4 533.2 627.4 534.7 628.8 534.8C630.1 535.0 630.9 534.7 631.7 533.8C632.6 533.0 633.1 531.3 633.7 529.8C634.3 528.3 634.8 526.1 635.3 524.8C635.8 523.6 636.7 522.8 636.7 522.3C636.7 521.7 635.8 520.9 635.3 521.5C634.8 522.1 634.3 524.4 633.7 525.8C633.2 527.2 633.1 528.8 632.1 529.8C631.1 530.8 628.5 531.5 627.8 531.8"/>
<path d="M575.6 550.7C576.2 550.8 578.0 551.0 579.1 551.4C580.3 551.8 581.8 551.9 582.7 552.8C583.7 553.8 584.1 555.4 584.8 557.1C585.6 558.8 586.5 561.2 587.0 562.8C587.5 564.3 587.9 565.2 587.7 566.4C587.5 567.5 586.4 568.7 585.6 569.9C584.7 571.1 583.5 572.2 582.7 573.5C581.9 574.8 581.4 576.4 580.6 577.7C579.7 579.1 578.7 580.1 577.7 581.3C576.8 582.5 575.4 583.7 574.9 584.9C574.3 586.1 574.3 587.1 574.4 588.4C574.6 589.7 575.2 591.3 575.6 592.7C576.0 594.1 576.7 595.6 577.0 597.0C577.4 598.4 577.5 599.8 577.7 601.3C578.0 602.7 578.2 604.1 578.4 605.5C578.7 607.0 579.0 608.6 579.1 609.8C579.3 611.0 579.4 611.8 579.1 612.6C578.9 613.5 578.2 614.2 577.7 614.8C577.2 615.4 576.4 615.5 576.3 616.2C576.2 616.9 576.7 618.1 577.0 619.1C577.3 620.0 578.0 621.0 578.1 621.9C578.3 622.9 578.1 624.0 577.7 624.8C577.3 625.5 576.5 625.9 575.6 626.2C574.6 626.4 573.2 626.4 572.0 626.2C570.8 625.9 569.6 625.4 568.5 624.8C567.3 624.2 566.0 623.2 564.9 622.6C563.8 622.0 563.1 621.2 562.1 621.2C561.0 621.2 559.8 622.0 558.5 622.6C557.2 623.2 555.6 624.2 554.2 624.8C552.8 625.4 550.7 625.9 549.9 626.2"/>
<path d="M539.2 630.3C538.2 630.5 534.5 631.2 532.8 631.5C531.1 631.9 529.0 631.9 529.0 632.3C529.0 632.7 530.9 633.6 532.8 634.1C534.7 634.6 537.9 634.9 540.5 635.4C543.1 635.9 545.9 636.8 548.2 637.2C550.6 637.6 553.8 637.4 554.6 637.9C555.5 638.5 554.4 640.1 553.3 640.5C552.3 640.9 549.9 640.5 548.2 640.5C546.5 640.5 544.8 639.9 543.1 640.5C541.4 641.2 539.2 642.9 537.9 644.4C536.7 645.9 536.0 647.6 535.4 649.5C534.7 651.4 534.7 653.8 534.1 655.9C533.5 658.0 532.6 660.4 531.5 662.3C530.5 664.2 529.0 666.4 527.7 667.4C526.4 668.5 524.9 669.1 523.8 668.7C522.8 668.3 522.1 666.2 521.3 664.9C520.4 663.6 519.8 661.2 518.7 661.0C517.6 660.8 515.9 662.3 514.9 663.6C513.8 664.9 513.4 667.6 512.3 668.7C511.2 669.8 509.4 670.6 508.5 670.0C507.5 669.4 507.0 667.0 506.7 664.9C506.4 662.7 506.4 659.7 506.7 657.2C507.0 654.6 507.7 651.4 508.5 649.5C509.2 647.6 510.6 646.3 511.0 645.6"/>
<path d="M505.9 638.7C504.8 638.8 501.4 639.5 499.5 639.2C497.6 639.0 496.1 637.7 494.4 637.2C492.6 636.7 490.9 636.2 489.2 636.2C487.5 636.2 485.8 636.8 484.1 637.2C482.4 637.6 480.7 638.4 479.0 638.7C477.3 639.1 475.6 638.7 473.8 639.2C472.1 639.7 470.0 640.5 468.7 641.8C467.4 643.1 466.8 645.2 466.2 646.9C465.5 648.6 465.5 650.6 464.9 652.1C464.2 653.5 463.2 655.0 462.3 655.9C461.5 656.8 460.6 657.4 459.7 657.2C458.9 657.0 457.8 655.9 457.2 654.6C456.5 653.3 455.9 651.2 455.9 649.5C455.9 647.8 456.8 646.1 457.2 644.4C457.6 642.6 458.0 640.9 458.5 639.2C458.9 637.5 459.7 635.6 459.7 634.1C459.7 632.6 459.1 631.3 458.5 630.3C457.8 629.2 455.9 628.5 455.9 627.7C455.9 626.8 457.6 626.0 458.5 625.1C459.3 624.3 460.8 623.6 461.0 622.6C461.2 621.5 460.6 619.6 459.7 618.7C458.9 617.9 457.4 617.5 455.9 617.4C454.4 617.4 452.3 617.6 450.8 618.2C449.3 618.8 447.8 620.1 446.9 621.3C446.1 622.4 446.1 623.6 445.6 625.1C445.2 626.6 445.2 629.0 444.4 630.3C443.5 631.5 441.8 632.2 440.5 632.8C439.2 633.5 436.9 633.2 436.7 634.1C436.5 635.0 438.4 636.7 439.2 637.9C440.1 639.2 440.9 640.5 441.8 641.8C442.6 643.1 443.7 644.4 444.4 645.6C445.0 646.9 445.4 648.0 445.6 649.5C445.9 651.0 445.9 653.1 445.6 654.6C445.4 656.1 445.0 658.2 444.4 658.5C443.7 658.7 442.6 657.4 441.8 655.9C440.9 654.4 439.9 651.4 439.2 649.5C438.6 647.6 438.6 646.1 437.9 644.4C437.3 642.6 436.5 640.7 435.4 639.2C434.3 637.7 432.4 636.2 431.5 635.4C430.7 634.5 429.8 634.7 430.3 634.1C430.7 633.5 432.4 632.1 434.1 631.5C435.8 631.0 438.6 630.8 440.5 630.8C442.4 630.8 443.7 631.2 445.6 631.5C447.6 631.9 449.9 632.6 452.1 632.8C454.2 633.0 456.3 633.0 458.5 632.8C460.6 632.6 462.7 632.0 464.9 631.5C467.0 631.1 469.4 630.3 471.3 630.3C473.2 630.2 474.7 630.6 476.4 631.0C478.1 631.5 479.6 632.6 481.5 632.8C483.5 633.0 486.0 632.3 487.9 632.1C489.9 631.8 491.8 631.0 493.1 631.5C494.4 632.1 495.0 633.9 495.6 635.4C496.3 636.9 496.6 639.0 496.9 640.5C497.2 642.0 498.1 643.5 497.4 644.4C496.8 645.2 494.7 645.2 493.1 645.6C491.5 646.1 489.4 646.5 487.9 646.9C486.5 647.4 485.4 648.2 484.1 648.2C482.8 648.2 481.8 647.4 480.3 646.9C478.8 646.5 476.8 645.4 475.1 645.6C473.4 645.9 471.3 647.1 470.0 648.2C468.7 649.3 467.4 650.8 467.4 652.1C467.4 653.3 468.7 655.3 470.0 655.9C471.3 656.5 474.3 655.9 475.1 655.9"/>
<path d="M485.4 663.6C486.2 663.8 488.8 664.4 490.5 664.9C492.2 665.3 494.8 665.9 495.6 666.2"/>
<path d="M475.1 658.5C474.3 658.7 471.5 659.1 470.0 659.7C468.5 660.4 466.6 661.0 466.2 662.3C465.7 663.6 466.8 665.7 467.4 667.4C468.1 669.1 468.9 670.9 470.0 672.6C471.1 674.3 472.4 676.6 473.8 677.7C475.3 678.8 477.5 679.4 479.0 679.0C480.5 678.5 482.0 676.4 482.8 675.1C483.7 673.8 483.5 671.7 484.1 671.3C484.7 670.9 485.4 672.1 486.7 672.6C487.9 673.0 490.9 673.6 491.8 673.8"/>
<path d="M496.9 672.6C496.9 673.4 496.6 676.3 496.9 677.7C497.3 679.1 498.6 680.3 499.0 680.8"/>
<path d="M487.9 646.9C488.4 647.6 490.5 649.7 490.5 650.8C490.5 651.8 489.0 653.1 487.9 653.3C486.9 653.5 484.7 652.3 484.1 652.1"/>
<path d="M499.9 680.0C499.8 680.5 498.8 682.2 498.9 683.0C499.1 683.8 500.8 684.2 500.9 685.0C501.1 685.8 499.8 687.1 499.9 688.0C500.1 688.8 501.7 688.6 501.9 690.0C502.2 691.3 500.9 694.8 501.5 696.0C502.2 697.1 504.5 696.9 505.9 697.0C507.3 697.0 508.8 695.7 509.9 696.4C511.1 697.0 512.1 699.2 512.9 700.9C513.7 702.7 513.9 705.8 514.9 706.9C515.9 708.1 517.6 708.1 518.9 707.9C520.2 707.8 521.6 706.7 522.9 705.9C524.2 705.2 526.0 704.0 526.9 703.5C527.7 703.0 528.1 702.4 527.9 702.9C527.6 703.5 525.6 705.4 525.5 706.9C525.3 708.4 526.1 710.2 526.9 711.9C527.6 713.6 529.2 715.1 529.9 716.9C530.5 718.7 530.9 720.9 530.9 722.9C530.9 724.9 529.9 726.9 529.9 728.9C529.9 730.9 530.5 732.9 530.9 734.8C531.3 736.8 531.8 739.3 532.3 740.8C532.7 742.3 533.0 744.0 533.5 743.8C533.9 743.7 534.8 741.5 534.8 739.8C534.9 738.2 534.3 735.3 533.8 733.8C533.4 732.4 532.1 731.9 532.3 730.9C532.4 729.9 533.7 728.9 534.8 727.9C535.9 726.9 537.3 725.7 538.8 724.9C540.3 724.0 542.2 723.4 543.8 722.9C545.5 722.4 547.3 722.2 548.8 721.9C550.3 721.6 551.6 720.9 552.8 720.9C554.0 720.9 554.8 721.6 555.8 721.9C556.8 722.2 558.0 722.0 558.8 722.9C559.5 723.7 560.1 725.4 560.2 726.9C560.3 728.4 559.8 730.0 559.4 731.9C559.0 733.7 558.2 735.8 557.8 737.8C557.4 739.8 557.0 741.8 556.8 743.8C556.6 745.8 556.6 747.8 556.8 749.8C557.0 751.8 557.3 754.1 557.8 755.8C558.3 757.4 559.4 759.1 559.8 759.8"/>
<path d="M553.8 704.9C553.0 704.8 550.3 704.2 548.8 704.3C547.3 704.5 546.0 705.0 544.8 705.9C543.7 706.9 542.2 708.6 541.8 709.9C541.5 711.2 542.0 713.0 542.8 713.9C543.7 714.8 545.6 715.5 546.8 715.5C548.0 715.5 549.0 714.8 549.8 713.9C550.6 713.0 551.2 711.2 551.8 709.9C552.4 708.6 553.4 705.6 553.4 705.9C553.4 706.3 552.2 710.1 551.8 711.9C551.4 713.7 550.8 715.2 550.8 716.9C550.8 718.6 551.8 720.1 551.8 721.9C551.8 723.7 551.3 725.9 550.8 727.9C550.3 729.9 549.3 731.9 548.8 733.8C548.3 735.8 547.9 737.8 547.8 739.8C547.7 741.8 548.0 743.8 548.2 745.8C548.4 747.8 548.9 749.8 548.8 751.8C548.7 753.8 548.1 755.8 547.8 757.8C547.5 759.8 546.6 762.1 546.8 763.8C547.0 765.4 547.6 767.1 548.8 767.8C550.0 768.4 552.1 767.8 553.8 767.8C555.5 767.8 557.9 767.8 558.8 767.8"/>
<path d="M532.3 730.9C533.0 732.4 535.2 738.7 536.8 739.8C538.4 741.0 540.2 738.3 541.8 737.8C543.5 737.3 545.3 737.0 546.8 736.8C548.3 736.7 550.1 736.8 550.8 736.8"/>
<path d="M537.8 743.8C538.7 743.7 541.0 743.0 542.8 742.8C544.7 742.7 546.8 742.7 548.8 742.8C550.8 743.0 553.3 743.3 554.8 743.8C556.3 744.3 557.3 745.5 557.8 745.8"/>
<path d="M554.2 739.8 L558.2 739.4"/>
<path d="M537.8 743.8C537.5 744.7 536.7 747.1 535.8 748.8C535.0 750.5 533.8 752.1 532.9 753.8C531.9 755.5 530.7 757.1 529.9 758.8C529.0 760.4 528.4 762.6 527.9 763.8C527.4 764.9 526.5 765.6 526.9 765.8C527.2 765.9 528.7 765.3 529.9 764.8C531.0 764.3 532.5 763.4 533.8 762.8C535.2 762.1 536.9 761.8 537.8 760.8C538.8 759.8 539.3 758.3 539.4 756.8C539.6 755.3 539.1 753.5 538.8 751.8C538.6 750.1 538.0 747.6 537.8 746.8"/>
<path d="M539.4 756.8C540.2 756.5 542.6 755.1 543.8 754.8C545.1 754.5 546.3 754.8 546.8 754.8"/>
<path d="M527.9 765.8C527.9 766.6 527.5 769.1 527.9 770.7C528.2 772.4 529.0 774.1 529.9 775.7C530.7 777.4 531.7 779.7 532.9 780.7C534.0 781.7 535.3 781.7 536.8 781.7C538.3 781.7 540.2 780.9 541.8 780.7C543.5 780.6 545.5 781.2 546.8 780.7C548.1 780.2 549.1 779.1 549.8 777.7C550.5 776.4 550.8 774.2 550.8 772.7C550.8 771.2 550.3 770.2 549.8 768.8C549.3 767.3 548.1 764.6 547.8 763.8"/>
<path d="M568.8 763.8C569.4 763.3 571.6 761.6 572.7 760.8C573.9 759.9 575.1 758.9 575.7 758.8C576.4 758.6 576.9 759.1 576.7 759.8C576.6 760.4 575.5 761.4 574.7 762.8C574.0 764.1 573.0 766.1 572.1 767.8C571.3 769.4 570.6 771.4 569.7 772.7C568.9 774.1 567.1 774.6 566.8 775.7C566.4 776.9 567.9 778.4 567.8 779.7C567.6 781.1 566.6 782.5 565.8 783.7C564.9 784.9 563.4 785.4 562.8 786.7C562.1 788.0 561.8 790.0 561.8 791.7C561.8 793.3 562.9 795.3 562.8 796.7C562.6 798.0 560.8 798.5 560.8 799.7C560.8 800.8 561.9 802.7 562.8 803.7C563.6 804.7 564.6 805.1 565.8 805.6C566.9 806.1 568.6 806.1 569.7 806.6C570.9 807.1 572.2 808.3 572.7 808.6"/>
<path d="M572.3 808.3C571.9 807.9 570.8 806.6 569.9 806.0C569.0 805.3 568.1 804.7 567.0 804.4C565.8 804.0 564.1 804.5 563.0 804.0C561.8 803.4 560.1 802.3 560.0 801.0C559.8 799.6 561.5 797.8 562.0 796.0C562.5 794.2 562.8 791.0 563.0 790.0"/>
<path d="M571.9 807.0C571.6 807.8 570.8 810.3 569.9 811.9C569.1 813.6 567.6 815.6 567.0 816.9C566.3 818.3 565.5 819.9 566.0 819.9C566.5 819.9 568.4 818.1 569.9 816.9C571.4 815.8 573.1 813.9 574.9 812.9C576.8 811.9 578.9 811.4 580.9 810.9C582.9 810.4 585.1 810.3 586.9 809.9C588.7 809.6 590.9 809.3 591.9 808.9C592.9 808.5 592.7 807.2 592.9 807.6C593.0 807.9 592.2 810.0 592.9 810.9C593.5 811.8 595.5 812.1 596.9 812.9C598.2 813.8 599.9 814.6 600.9 815.9C601.9 817.3 602.9 819.1 602.9 820.9C602.9 822.7 601.7 824.9 600.9 826.9C600.0 828.9 598.9 830.9 597.9 832.9C596.9 834.9 596.0 836.9 594.9 838.9C593.7 840.9 592.0 843.0 590.9 844.8C589.7 846.7 588.7 848.2 587.9 849.8C587.1 851.5 586.6 853.2 585.9 854.8C585.2 856.5 584.4 858.1 583.9 859.8C583.4 861.5 582.7 863.3 582.9 864.8C583.1 866.3 583.9 867.9 584.9 868.8C585.9 869.6 587.4 869.8 588.9 869.8C590.4 869.8 592.0 869.3 593.9 868.8C595.7 868.3 597.9 867.4 599.9 866.8C601.9 866.1 603.8 865.5 605.8 864.8C607.8 864.1 610.0 863.5 611.8 862.8C613.7 862.1 615.3 861.3 616.8 860.8C618.3 860.3 619.3 859.9 620.8 859.8C622.3 859.7 624.3 859.9 625.8 860.2C627.3 860.5 628.4 861.0 629.8 861.8C631.1 862.6 633.1 864.3 633.8 864.8"/>
<path d="M602.9 831.9C602.9 831.1 602.4 828.2 602.9 826.9C603.4 825.6 604.5 824.6 605.8 823.9C607.2 823.2 609.3 822.7 610.8 822.9C612.3 823.1 613.8 823.9 614.8 824.9C615.8 825.9 616.3 827.4 616.8 828.9C617.3 830.4 617.5 832.0 617.8 833.9C618.1 835.7 618.5 838.2 618.8 839.9C619.1 841.5 620.0 842.5 619.8 843.8C619.6 845.2 618.8 847.2 617.8 847.8C616.8 848.5 615.2 848.3 613.8 847.8C612.5 847.3 611.2 845.8 609.8 844.8C608.5 843.8 606.9 843.0 605.8 841.9C604.8 840.7 603.9 839.5 603.5 837.9C603.0 836.2 603.0 832.9 602.9 831.9"/>
<path d="M575.3 831.5C575.1 831.7 574.5 832.1 573.9 832.9C573.4 833.6 571.9 834.7 571.9 835.9C571.9 837.0 572.9 838.7 573.9 839.9C574.9 841.0 576.4 842.2 577.9 842.9C579.4 843.5 581.7 843.2 582.9 843.8C584.1 844.5 584.9 845.7 584.9 846.8C584.9 848.0 583.7 849.5 582.9 850.8C582.1 852.2 580.7 853.7 579.9 854.8C579.1 856.0 578.1 856.8 577.9 857.8C577.8 858.8 578.1 860.5 578.9 860.8C579.8 861.1 581.6 860.3 582.9 859.8C584.2 859.3 585.4 858.1 586.9 857.8C588.4 857.5 590.2 858.0 591.9 857.8C593.5 857.6 595.7 857.6 596.9 856.8C598.0 856.0 598.4 854.2 598.9 852.8C599.4 851.5 599.2 849.7 599.9 848.8C600.5 848.0 601.7 847.8 602.9 847.8C604.0 847.8 605.7 848.2 606.8 848.8C608.0 849.5 609.0 850.8 609.8 851.8C610.7 852.8 611.5 854.3 611.8 854.8"/>
<path d="M614.8 853.4C614.6 853.0 614.2 851.3 613.4 850.8C612.7 850.4 611.2 850.4 610.4 850.8C609.7 851.3 608.9 852.5 608.8 853.4C608.7 854.3 609.2 855.6 609.8 856.2C610.5 856.8 612.0 857.2 612.8 857.0C613.7 856.8 614.8 855.8 615.0 855.0C615.3 854.2 614.4 852.7 614.2 852.2"/>
<path d="M571.9 836.9C572.3 838.0 573.1 841.7 573.9 843.8C574.8 846.0 575.9 848.0 576.9 849.8C577.9 851.7 578.9 853.2 579.9 854.8C580.9 856.5 581.9 858.0 582.9 859.8C583.9 861.6 584.7 864.0 585.9 865.8C587.1 867.6 588.6 869.3 589.9 870.8C591.2 872.3 593.2 874.1 593.9 874.8"/>
<path d="M605.8 882.7C606.7 882.9 609.2 883.6 610.8 883.7C612.5 883.9 614.2 883.9 615.8 883.7C617.5 883.6 619.1 883.2 620.8 882.7C622.5 882.2 624.3 881.2 625.8 880.7C627.3 880.2 628.3 880.1 629.8 879.7C631.3 879.4 633.1 879.1 634.8 878.8C636.4 878.4 638.3 878.3 639.7 877.8C641.2 877.3 642.4 876.4 643.7 875.8C645.1 875.1 646.1 874.3 647.7 873.8C649.4 873.3 651.7 872.8 653.7 872.8C655.7 872.8 657.9 873.3 659.7 873.8C661.5 874.3 663.3 875.8 664.7 875.8C666.0 875.8 666.8 874.8 667.7 873.8C668.5 872.8 669.5 870.9 669.7 869.8C669.8 868.6 669.2 867.0 668.7 866.8C668.2 866.6 667.2 867.6 666.7 868.8C666.2 869.9 665.8 872.9 665.7 873.8"/>
<path d="M613.8 877.8C613.5 877.3 612.5 875.8 611.8 874.8C611.2 873.8 609.5 872.8 609.8 871.8C610.2 870.8 612.7 869.9 613.8 868.8C615.0 867.6 616.0 866.1 616.8 864.8C617.6 863.5 618.5 861.5 618.8 860.8"/>
<path d="M645.7 849.8C646.1 849.0 646.7 846.0 647.7 844.8C648.7 843.7 650.6 842.9 651.7 842.9C652.9 842.9 654.0 843.7 654.7 844.8C655.4 846.0 655.2 848.3 655.7 849.8C656.2 851.3 656.7 852.5 657.7 853.8C658.7 855.2 660.5 856.3 661.7 857.8C662.9 859.3 663.8 861.3 664.7 862.8C665.5 864.3 666.5 865.3 666.7 866.8C666.8 868.3 666.3 869.9 665.7 871.8C665.0 873.6 663.5 875.9 662.7 877.8C661.9 879.6 661.4 881.1 660.7 882.7C660.0 884.4 658.7 886.2 658.7 887.7C658.7 889.2 660.2 890.2 660.7 891.7C661.2 893.2 661.9 895.0 661.7 896.7C661.5 898.4 660.7 900.4 659.7 901.7C658.7 903.0 657.0 904.3 655.7 904.7C654.4 905.0 652.7 904.5 651.7 903.7C650.7 902.9 650.2 901.2 649.7 899.7C649.2 898.2 648.7 896.4 648.7 894.7C648.7 893.0 649.7 890.9 649.7 889.7C649.7 888.6 648.9 888.1 648.7 887.7"/>
<path d="M645.7 849.8C645.9 850.7 646.2 853.2 646.7 854.8C647.2 856.5 647.9 858.1 648.7 859.8C649.6 861.5 650.7 863.1 651.7 864.8C652.7 866.5 653.9 868.1 654.7 869.8C655.5 871.4 656.0 873.4 656.7 874.8C657.4 876.1 658.4 877.3 658.7 877.8"/>
<path d="M629.8 865.8C630.1 866.5 631.1 868.4 631.8 869.8C632.4 871.1 632.9 872.4 633.8 873.8C634.6 875.1 635.9 876.3 636.8 877.8C637.6 879.3 637.9 881.2 638.8 882.7C639.6 884.2 640.6 885.6 641.7 886.7C642.9 887.9 644.6 888.6 645.7 889.7C646.9 890.9 648.4 892.2 648.7 893.7C649.1 895.2 648.2 897.2 647.7 898.7C647.2 900.2 646.1 902.0 645.7 902.7"/>
<path d="M619.8 877.8C619.5 878.6 618.5 881.1 617.8 882.7C617.1 884.4 616.3 886.1 615.8 887.7C615.3 889.4 614.7 891.4 614.8 892.7C615.0 894.0 616.5 895.2 616.8 895.7"/>
<path d="M631.8 891.7C632.1 892.4 633.3 894.4 633.8 895.7C634.3 897.0 634.6 899.0 634.8 899.7"/>
<path d="M619.8 877.8C620.5 877.1 622.5 874.8 623.8 873.8C625.1 872.8 626.8 871.8 627.8 871.8C628.8 871.8 629.1 872.6 629.8 873.8C630.4 874.9 631.1 877.1 631.8 878.8C632.4 880.4 632.8 882.6 633.8 883.7C634.8 884.9 637.1 885.4 637.8 885.7"/>
<path d="M598.9 880.7C599.2 881.6 600.4 884.1 600.9 885.7C601.4 887.4 602.0 889.1 601.9 890.7C601.7 892.4 600.4 894.0 599.9 895.7C599.4 897.4 598.5 899.2 598.9 900.7C599.2 902.2 600.5 903.5 601.9 904.7C603.2 905.8 605.5 907.0 606.8 907.7C608.2 908.3 609.7 908.0 609.8 908.7C610.0 909.3 609.0 910.8 607.8 911.7C606.7 912.5 604.2 913.0 602.9 913.7C601.5 914.3 600.2 914.8 599.9 915.6C599.5 916.5 600.0 917.8 600.9 918.6C601.7 919.5 603.5 920.0 604.8 920.6C606.2 921.3 607.7 921.8 608.8 922.6C610.0 923.5 611.1 925.5 611.8 925.6C612.6 925.8 613.4 924.6 613.4 923.6C613.4 922.6 611.8 921.0 611.8 919.6C611.9 918.3 612.8 916.6 613.8 915.6C614.8 914.7 616.5 914.2 617.8 913.7C619.1 913.2 621.0 913.5 621.8 912.7C622.6 911.8 623.0 910.0 622.8 908.7C622.6 907.3 621.6 905.8 620.8 904.7C620.0 903.5 618.8 902.7 617.8 901.7C616.8 900.7 615.3 899.2 614.8 898.7"/>
<path d="M621.8 912.7C622.5 913.0 624.6 913.7 625.8 914.7C627.0 915.6 627.9 917.3 628.8 918.6C629.6 920.0 630.1 922.6 630.8 922.6C631.4 922.6 632.1 920.0 632.8 918.6C633.4 917.3 633.9 915.5 634.8 914.7C635.6 913.8 636.6 913.7 637.8 913.7C638.9 913.7 640.9 914.0 641.7 914.7C642.6 915.3 643.1 916.8 642.7 917.6C642.4 918.5 640.7 919.6 639.7 919.6C638.8 919.6 637.4 918.6 636.8 917.6C636.1 916.6 635.4 915.0 635.8 913.7C636.1 912.3 637.6 910.8 638.8 909.7C639.9 908.5 641.2 907.3 642.7 906.7C644.2 906.0 646.2 906.0 647.7 905.7C649.2 905.3 651.1 904.8 651.7 904.7"/>
<path d="M609.8 908.7C610.5 908.2 612.3 906.5 613.8 905.7C615.3 904.8 617.3 904.3 618.8 903.7C620.3 903.0 621.6 902.0 622.8 901.7C624.0 901.4 625.3 901.7 625.8 901.7"/>
<path d="M633.8 864.8C634.4 865.3 636.1 867.0 637.8 867.8C639.4 868.6 641.7 869.3 643.7 869.8C645.7 870.3 647.7 870.8 649.7 870.8C651.7 870.8 653.7 870.1 655.7 869.8C657.7 869.4 660.7 868.9 661.7 868.8"/>
<path d="M615.8 887.7C616.8 887.1 619.5 885.1 621.8 884.1C624.1 883.2 627.4 882.1 629.8 882.1C632.1 882.1 634.1 882.9 635.8 884.1C637.4 885.4 638.4 887.8 639.7 889.7C641.1 891.6 642.4 893.7 643.7 895.7C645.1 897.7 646.6 899.9 647.7 901.7C648.9 903.5 650.2 905.8 650.7 906.7"/>
<path d="M633.8 864.8C634.1 866.0 634.9 869.6 635.8 871.8C636.6 873.9 637.4 875.8 638.8 877.8C640.1 879.7 641.9 882.0 643.7 883.3C645.6 884.7 648.1 885.7 649.7 885.7C651.4 885.8 652.6 884.7 653.7 883.7C654.8 882.7 655.9 881.2 656.1 879.7C656.3 878.3 654.9 875.6 654.7 874.8"/>
<path d="M640.7 857.8C641.2 857.5 642.7 855.6 643.7 855.8C644.7 856.0 646.4 857.6 646.7 858.8C647.1 860.0 646.4 861.8 645.7 862.8C645.1 863.8 643.6 865.0 642.7 864.8C641.9 864.6 640.7 862.7 640.7 861.8C640.7 860.9 642.4 859.8 642.7 859.4"/>
<path d="M617.8 901.7C618.6 901.0 622.5 899.0 622.8 897.7C623.1 896.4 620.3 894.4 619.8 893.7"/>
</g>
<path d="M614.8 491.1 L628.8 490.5 L627.8 494.9 L624.8 498.9 L618.8 503.5 L616.4 499.9 L615.4 494.9 Z" fill="#4a4a4a"/>
<path d="M632.2 865.8 L634.8 863.4 L639.7 862.2 L643.3 858.8 L647.7 856.8 L648.5 858.8 L646.9 862.8 L645.3 867.4 L641.7 869.8 L636.8 869.8 L633.4 868.6 Z" fill="#707070"/>
<circle cx="587.9" cy="522.3" r="5.05" fill="url(#ball)"/>
<circle cx="592.3" cy="524.2" r="4.59" fill="url(#ball)"/>
<circle cx="589.9" cy="525.8" r="3.90" fill="url(#ball)"/>
<circle cx="596.8" cy="517.9" r="4.36" fill="url(#ball)"/>
<circle cx="600.8" cy="518.5" r="4.36" fill="url(#ball)"/>
<circle cx="602.2" cy="523.5" r="4.13" fill="url(#ball)"/>
<circle cx="597.8" cy="522.3" r="3.67" fill="url(#ball)"/>
<circle cx="626.2" cy="513.5" r="4.36" fill="url(#ball)"/>
<circle cx="629.7" cy="511.1" r="4.13" fill="url(#ball)"/>
<circle cx="627.8" cy="511.5" r="3.44" fill="url(#ball)"/>
<circle cx="559.9" cy="529.8" r="3.44" fill="url(#ball)"/>
<circle cx="562.9" cy="533.4" r="4.13" fill="url(#ball)"/>
<circle cx="566.9" cy="538.2" r="3.67" fill="url(#ball)"/>
<circle cx="569.9" cy="541.8" r="4.13" fill="url(#ball)"/>
<circle cx="572.3" cy="546.2" r="4.13" fill="url(#ball)"/>
<circle cx="568.9" cy="547.8" r="3.44" fill="url(#ball)"/>
<circle cx="574.3" cy="548.4" r="2.98" fill="url(#ball)"/>
<circle cx="542.6" cy="626.4" r="4.13" fill="url(#ball)"/>
<circle cx="546.2" cy="624.4" r="3.83" fill="url(#ball)"/>
<circle cx="544.4" cy="622.6" r="3.24" fill="url(#ball)"/>
<circle cx="546.7" cy="627.4" r="3.24" fill="url(#ball)"/>
<circle cx="508.5" cy="638.7" r="4.13" fill="url(#ball)"/>
<circle cx="512.8" cy="639.2" r="4.13" fill="url(#ball)"/>
<circle cx="511.3" cy="642.8" r="3.83" fill="url(#ball)"/>
<circle cx="514.4" cy="643.8" r="2.95" fill="url(#ball)"/>
<circle cx="478.5" cy="658.5" r="4.13" fill="url(#ball)"/>
<circle cx="482.8" cy="661.8" r="3.83" fill="url(#ball)"/>
<circle cx="486.2" cy="662.8" r="2.95" fill="url(#ball)"/>
<circle cx="494.9" cy="664.9" r="4.13" fill="url(#ball)"/>
<circle cx="497.9" cy="667.9" r="4.13" fill="url(#ball)"/>
<circle cx="495.9" cy="670.5" r="3.54" fill="url(#ball)"/>
<circle cx="561.4" cy="763.8" r="4.59" fill="url(#ball)"/>
<circle cx="565.8" cy="765.4" r="4.59" fill="url(#ball)"/>
<circle cx="568.8" cy="767.4" r="3.21" fill="url(#ball)"/>
<circle cx="596.9" cy="878.8" r="4.13" fill="url(#ball)"/>
<circle cx="601.5" cy="879.7" r="4.59" fill="url(#ball)"/>
<circle cx="604.2" cy="881.3" r="3.44" fill="url(#ball)"/>
<circle cx="624.8" cy="893.7" r="4.13" fill="url(#ball)"/>
<circle cx="628.8" cy="894.7" r="4.13" fill="url(#ball)"/>
<circle cx="626.8" cy="898.1" r="3.90" fill="url(#ball)"/>
<text x="559.4" y="491.9" font-family="'Liberation Sans', Arial, sans-serif" font-size="9.2" font-weight="bold" fill="#ee2a2a">S513</text>
<text x="638.8" y="513.5" font-family="'Liberation Sans', Arial, sans-serif" font-size="9.2" font-weight="bold" fill="#ee2a2a">S494</text>
<text x="533.3" y="530.5" font-family="'Liberation Sans', Arial, sans-serif" font-size="9.2" font-weight="bold" fill="#ee2a2a">S446</text>
<text x="618.1" y="547.4" font-family="'Liberation Sans', Arial, sans-serif" font-size="9.2" font-weight="bold" fill="#ee2a2a">S529</text>
<text x="554.8" y="563.5" font-family="'Liberation Sans', Arial, sans-serif" font-size="9.2" font-weight="bold" fill="#ee2a2a">S442</text>
<text x="531.0" y="612.1" font-family="'Liberation Sans', Arial, sans-serif" font-size="9.2" font-weight="bold" fill="#ee2a2a">S423</text>
<text x="499.8" y="627.7" font-family="'Liberation Sans', Arial, sans-serif" font-size="9.2" font-weight="bold" fill="#ee2a2a">S400</text>
<text x="453.0" y="671.3" font-family="'Liberation Sans', Arial, sans-serif" font-size="9.2" font-weight="bold" fill="#ee2a2a">S344</text>
<text x="508.0" y="683.7" font-family="'Liberation Sans', Arial, sans-serif" font-size="9.2" font-weight="bold" fill="#ee2a2a">S333</text>
<text x="577.8" y="774.5" font-family="'Liberation Sans', Arial, sans-serif" font-size="9.2" font-weight="bold" fill="#ee2a2a">S231</text>
<text x="569.0" y="883.2" font-family="'Liberation Sans', Arial, sans-serif" font-size="9.2" font-weight="bold" fill="#ee2a2a">S183</text>
<text x="649.3" y="927.3" font-family="'Liberation Sans', Arial, sans-serif" font-size="9.2" font-weight="bold" fill="#ee2a2a">S123</text>
<text x="573.2" y="685.5" font-family="'Liberation Sans', Arial, sans-serif" font-size="19.7" font-weight="bold" fill="#7030a0">GmLTI65</text>
<line x1="571.7" y1="494.1" x2="584.1" y2="513.4" stroke="#ee2a2a" stroke-width="1.15"/>
<path d="M584.1 513.4 L579.6 510.3 L583.2 508.1 Z" fill="#ee2a2a"/>
<line x1="617.6" y1="540.0" x2="604.8" y2="528.5" stroke="#ee2a2a" stroke-width="1.15"/>
<path d="M604.8 528.5 L609.9 530.3 L607.1 533.4 Z" fill="#ee2a2a"/>
<line x1="648.3" y1="914.8" x2="636.9" y2="901.9" stroke="#ee2a2a" stroke-width="1.15"/>
<path d="M636.9 901.9 L641.8 904.3 L638.6 907.0 Z" fill="#ee2a2a"/>
</g>
</svg>
</body></html>
